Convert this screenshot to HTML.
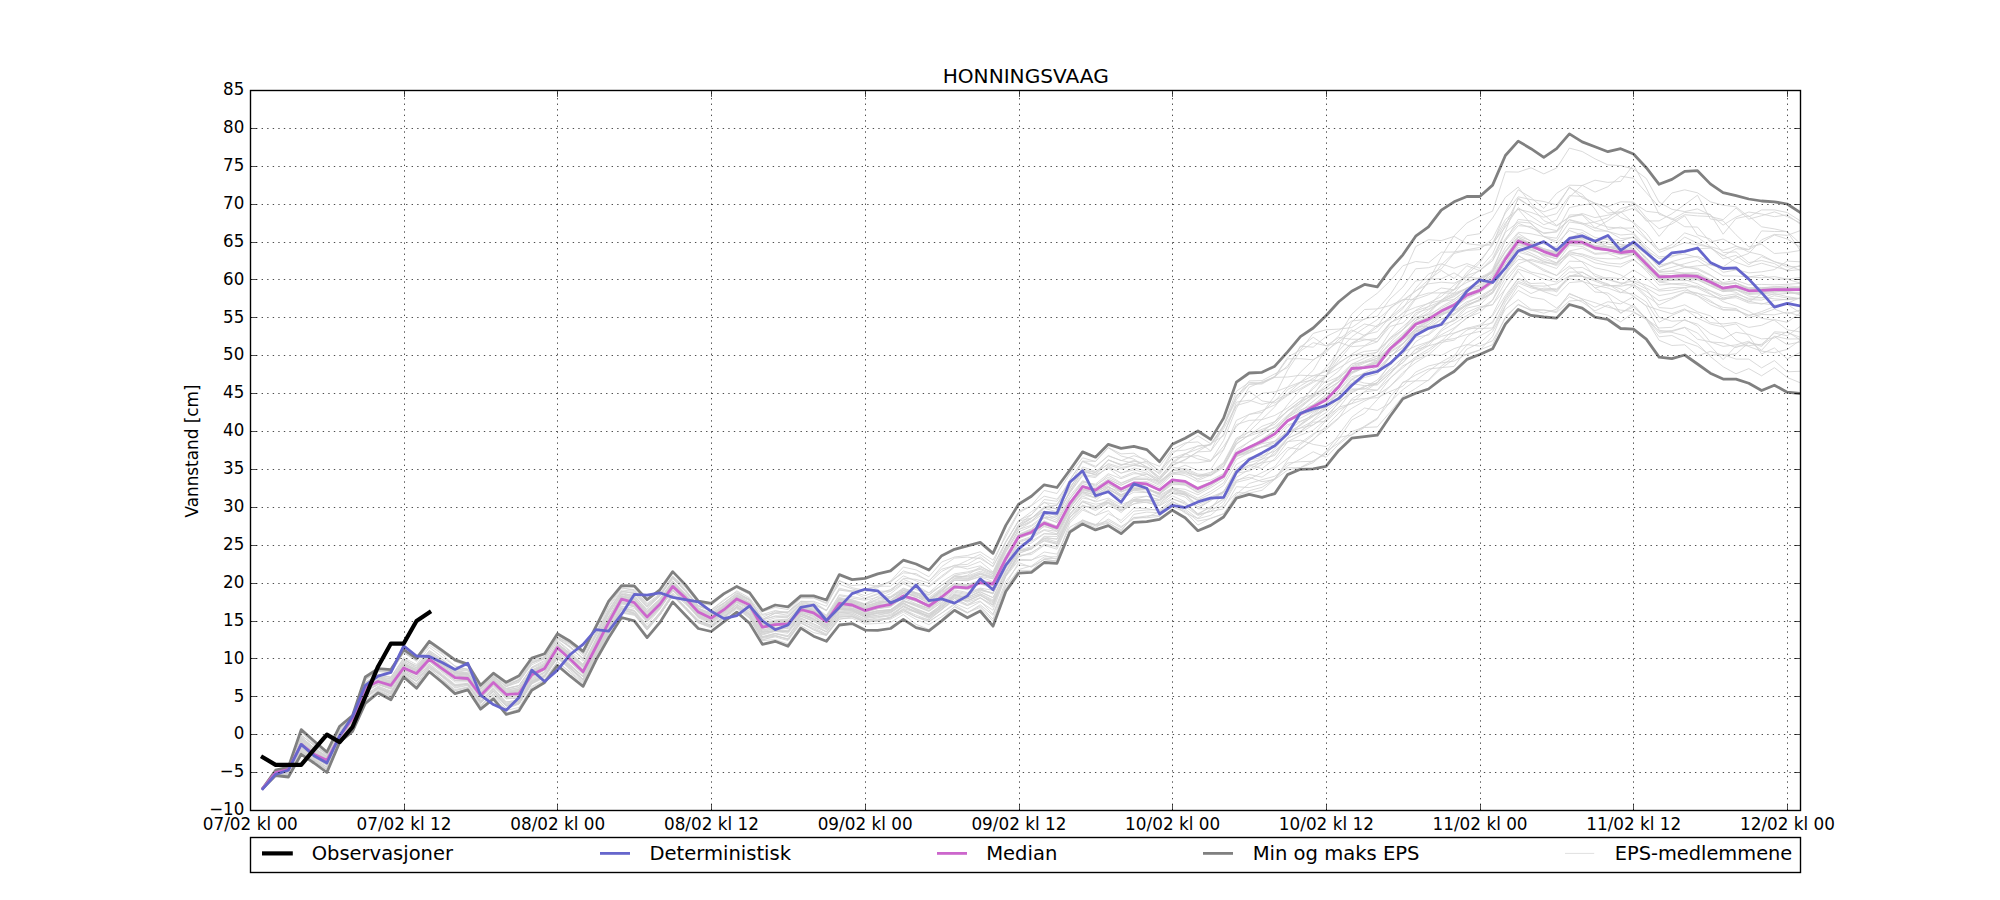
<!DOCTYPE html>
<html lang="no"><head><meta charset="utf-8"><title>HONNINGSVAAG</title>
<style>html,body{margin:0;padding:0;background:#fff}body{width:2000px;height:900px;overflow:hidden}svg{display:block}text{font-family:'DejaVu Sans','Liberation Sans',sans-serif;fill:#000}</style></head><body>
<svg width="2000" height="900" viewBox="0 0 2000 900">
<rect x="0" y="0" width="2000" height="900" fill="#fff"/>
<defs><clipPath id="ax"><rect x="250" y="90" width="1550" height="720"/></clipPath></defs>
<g clip-path="url(#ax)" fill="none" stroke-linejoin="round" stroke-linecap="square">
<g stroke="#d2d2d2" stroke-width="0.82">
<polyline points="262.8,788.4 275.6,771.9 288.4,768.9 301.2,741.6 314.0,751.6 326.9,759.3 339.7,734.5 352.5,718.0 365.3,685.8 378.1,679.4 390.9,681.8 403.7,663.7 416.5,670.2 429.3,653.8 442.1,663.0 455.0,672.3 467.8,673.9 480.6,692.9 493.4,680.1 506.2,692.3 519.0,690.7 531.8,672.4 544.6,667.3 557.4,646.6 570.2,657.8 583.1,669.2 595.9,645.0 608.7,620.6 621.5,598.2 634.3,601.9 647.1,616.6 659.9,604.0 672.7,586.4 685.5,598.1 698.3,612.1 711.2,618.1 724.0,609.7 736.8,598.7 749.6,604.9 762.4,627.1 775.2,624.6 788.0,623.9 800.8,609.5 813.6,612.8 826.4,621.5 839.3,603.1 852.1,604.5 864.9,609.9 877.7,605.7 890.5,603.2 903.3,594.9 916.1,598.2 928.9,605.4 941.7,596.4 954.5,586.5 967.4,587.8 980.2,582.7 993.0,584.0 1005.8,558.7 1018.6,536.6 1031.4,532.1 1044.2,523.0 1057.0,527.1 1069.8,502.8 1082.6,485.6 1095.5,488.7 1108.3,479.2 1121.1,485.2 1133.9,479.7 1146.7,479.4 1159.5,485.4 1172.3,473.0 1185.1,472.6 1197.9,475.7 1210.7,472.3 1223.6,462.4 1236.4,438.1 1249.2,431.9 1262.0,431.2 1274.8,421.9 1287.6,410.9 1300.4,403.4 1313.2,393.8 1326.0,380.9 1338.8,371.0 1351.7,356.0 1364.5,351.4 1377.3,350.1 1390.1,339.6 1402.9,329.4 1415.7,317.3 1428.5,314.8 1441.3,308.0 1454.1,301.3 1466.9,292.1 1479.8,284.5 1492.6,271.0 1505.4,247.5 1518.2,232.3 1531.0,233.8 1543.8,236.5 1556.6,238.2 1569.4,215.0 1582.2,214.6 1595.0,222.9 1607.9,227.1 1620.7,228.2 1633.5,228.0 1646.3,239.4 1659.1,249.7 1671.9,247.4 1684.7,237.1 1697.5,243.1 1710.3,247.4 1723.1,256.0 1736.0,248.7 1748.8,249.7 1761.6,230.9 1774.4,231.5 1787.2,231.6 1800.0,243.3"/>
<polyline points="262.8,788.4 275.6,770.9 288.4,768.1 301.2,735.2 314.0,745.2 326.9,754.8 339.7,729.2 352.5,716.4 365.3,680.0 378.1,671.5 390.9,672.9 403.7,652.9 416.5,659.3 429.3,642.3 442.1,651.9 455.0,661.2 467.8,665.1 480.6,686.5 493.4,673.7 506.2,684.2 519.0,679.6 531.8,661.7 544.6,657.9 557.4,637.9 570.2,647.8 583.1,659.4 595.9,635.4 608.7,610.9 621.5,592.5 634.3,595.9 647.1,608.9 659.9,595.8 672.7,576.9 685.5,587.3 698.3,602.2 711.2,604.2 724.0,594.7 736.8,587.2 749.6,593.9 762.4,614.4 775.2,610.5 788.0,613.5 800.8,601.4 813.6,601.3 826.4,606.3 839.3,580.8 852.1,585.6 864.9,584.5 877.7,586.0 890.5,581.3 903.3,572.9 916.1,573.6 928.9,581.3 941.7,566.6 954.5,558.1 967.4,557.1 980.2,558.6 993.0,566.2 1005.8,541.3 1018.6,521.1 1031.4,511.7 1044.2,502.6 1057.0,504.2 1069.8,488.6 1082.6,468.9 1095.5,472.3 1108.3,459.7 1121.1,465.6 1133.9,460.3 1146.7,466.6 1159.5,473.1 1172.3,453.8 1185.1,444.1 1197.9,435.8 1210.7,443.7 1223.6,435.8 1236.4,402.1 1249.2,400.2 1262.0,404.4 1274.8,401.3 1287.6,387.2 1300.4,372.2 1313.2,360.0 1326.0,350.5 1338.8,341.8 1351.7,331.9 1364.5,324.0 1377.3,326.7 1390.1,307.7 1402.9,300.1 1415.7,291.3 1428.5,279.8 1441.3,270.4 1454.1,278.5 1466.9,265.7 1479.8,270.7 1492.6,260.7 1505.4,238.6 1518.2,223.3 1531.0,228.0 1543.8,232.8 1556.6,231.8 1569.4,207.6 1582.2,204.9 1595.0,203.5 1607.9,206.6 1620.7,201.8 1633.5,202.1 1646.3,217.8 1659.1,228.7 1671.9,224.0 1684.7,215.9 1697.5,235.0 1710.3,239.0 1723.1,252.6 1736.0,251.9 1748.8,262.6 1761.6,260.5 1774.4,263.6 1787.2,270.9 1800.0,269.6"/>
<polyline points="262.8,788.4 275.6,771.6 288.4,768.4 301.2,736.9 314.0,748.2 326.9,756.5 339.7,731.9 352.5,717.6 365.3,684.4 378.1,678.1 390.9,682.3 403.7,664.8 416.5,670.7 429.3,656.2 442.1,664.8 455.0,672.4 467.8,674.3 480.6,692.2 493.4,679.3 506.2,690.5 519.0,687.6 531.8,669.9 544.6,663.6 557.4,643.7 570.2,653.4 583.1,664.6 595.9,639.2 608.7,614.4 621.5,594.5 634.3,597.6 647.1,611.6 659.9,600.1 672.7,581.9 685.5,595.0 698.3,609.0 711.2,612.5 724.0,602.9 736.8,593.2 749.6,599.0 762.4,619.4 775.2,613.1 788.0,615.3 800.8,602.5 813.6,604.6 826.4,610.3 839.3,588.1 852.1,591.4 864.9,595.7 877.7,591.1 890.5,591.3 903.3,583.4 916.1,588.4 928.9,593.0 941.7,585.3 954.5,575.3 967.4,573.0 980.2,569.3 993.0,575.3 1005.8,548.5 1018.6,525.9 1031.4,518.6 1044.2,506.6 1057.0,505.4 1069.8,485.1 1082.6,461.6 1095.5,467.4 1108.3,455.5 1121.1,460.7 1133.9,455.7 1146.7,459.7 1159.5,472.0 1172.3,451.3 1185.1,450.1 1197.9,446.1 1210.7,444.9 1223.6,425.0 1236.4,391.2 1249.2,382.4 1262.0,383.0 1274.8,377.4 1287.6,377.0 1300.4,375.2 1313.2,375.8 1326.0,375.5 1338.8,368.0 1351.7,360.2 1364.5,355.5 1377.3,356.0 1390.1,344.8 1402.9,333.4 1415.7,322.7 1428.5,317.3 1441.3,309.5 1454.1,303.3 1466.9,293.8 1479.8,288.5 1492.6,279.0 1505.4,258.2 1518.2,240.2 1531.0,244.5 1543.8,250.6 1556.6,254.4 1569.4,238.9 1582.2,237.2 1595.0,243.0 1607.9,246.6 1620.7,250.6 1633.5,250.5 1646.3,263.6 1659.1,276.1 1671.9,276.2 1684.7,274.6 1697.5,274.9 1710.3,279.9 1723.1,287.4 1736.0,285.2 1748.8,288.0 1761.6,288.2 1774.4,286.7 1787.2,287.7 1800.0,288.1"/>
<polyline points="262.8,788.4 275.6,772.6 288.4,769.5 301.2,744.3 314.0,753.7 326.9,760.2 339.7,735.7 352.5,718.5 365.3,687.2 378.1,680.9 390.9,683.7 403.7,665.7 416.5,670.1 429.3,653.2 442.1,661.0 455.0,668.8 467.8,669.1 480.6,689.3 493.4,677.4 506.2,688.6 519.0,685.4 531.8,668.1 544.6,663.1 557.4,643.0 570.2,653.5 583.1,666.0 595.9,642.7 608.7,618.1 621.5,597.2 634.3,600.9 647.1,615.7 659.9,603.6 672.7,586.1 685.5,598.0 698.3,612.1 711.2,618.2 724.0,610.0 736.8,599.2 749.6,605.3 762.4,627.8 775.2,625.0 788.0,623.9 800.8,609.5 813.6,613.3 826.4,622.3 839.3,604.2 852.1,606.8 864.9,613.7 877.7,610.9 890.5,609.9 903.3,602.7 916.1,610.2 928.9,616.9 941.7,608.1 954.5,597.2 967.4,600.9 980.2,594.7 993.0,604.2 1005.8,575.4 1018.6,553.7 1031.4,548.6 1044.2,536.3 1057.0,536.5 1069.8,508.6 1082.6,489.7 1095.5,491.3 1108.3,482.1 1121.1,489.6 1133.9,482.9 1146.7,483.8 1159.5,489.8 1172.3,479.7 1185.1,481.3 1197.9,488.2 1210.7,482.6 1223.6,475.7 1236.4,454.7 1249.2,448.7 1262.0,443.7 1274.8,441.2 1287.6,426.7 1300.4,418.2 1313.2,411.7 1326.0,403.1 1338.8,393.3 1351.7,378.7 1364.5,373.2 1377.3,370.9 1390.1,357.4 1402.9,343.6 1415.7,329.2 1428.5,322.0 1441.3,312.7 1454.1,305.4 1466.9,295.2 1479.8,290.3 1492.6,281.0 1505.4,259.6 1518.2,243.0 1531.0,247.2 1543.8,256.9 1556.6,262.9 1569.4,253.9 1582.2,256.6 1595.0,262.9 1607.9,265.3 1620.7,267.0 1633.5,259.7 1646.3,269.4 1659.1,282.0 1671.9,280.1 1684.7,278.4 1697.5,278.5 1710.3,283.2 1723.1,290.4 1736.0,287.8 1748.8,293.5 1761.6,292.6 1774.4,291.6 1787.2,292.2 1800.0,292.4"/>
<polyline points="262.8,788.4 275.6,774.7 288.4,774.8 301.2,750.7 314.0,759.6 326.9,767.3 339.7,739.5 352.5,725.8 365.3,696.7 378.1,688.5 390.9,694.2 403.7,673.8 416.5,684.0 429.3,668.3 442.1,679.5 455.0,690.8 467.8,687.8 480.6,706.4 493.4,694.7 506.2,708.3 519.0,703.7 531.8,682.9 544.6,676.2 557.4,655.7 570.2,665.7 583.1,677.0 595.9,650.7 608.7,626.6 621.5,604.0 634.3,606.9 647.1,621.9 659.9,608.3 672.7,589.9 685.5,602.6 698.3,617.9 711.2,623.5 724.0,615.0 736.8,604.9 749.6,614.7 762.4,636.6 775.2,633.4 788.0,635.6 800.8,619.1 813.6,625.2 826.4,632.3 839.3,615.3 852.1,615.4 864.9,622.4 877.7,620.7 890.5,617.2 903.3,606.2 916.1,612.0 928.9,615.3 941.7,607.0 954.5,596.7 967.4,602.2 980.2,597.7 993.0,607.2 1005.8,576.5 1018.6,560.5 1031.4,560.3 1044.2,552.0 1057.0,554.1 1069.8,527.2 1082.6,520.2 1095.5,526.0 1108.3,523.3 1121.1,529.6 1133.9,517.7 1146.7,516.0 1159.5,515.2 1172.3,507.1 1185.1,511.7 1197.9,525.1 1210.7,518.2 1223.6,513.9 1236.4,494.2 1249.2,483.5 1262.0,479.7 1274.8,476.2 1287.6,467.7 1300.4,467.8 1313.2,462.6 1326.0,451.8 1338.8,442.9 1351.7,431.6 1364.5,426.9 1377.3,419.1 1390.1,396.7 1402.9,382.7 1415.7,375.0 1428.5,369.0 1441.3,367.6 1454.1,366.4 1466.9,349.1 1479.8,342.9 1492.6,331.4 1505.4,309.2 1518.2,299.6 1531.0,309.2 1543.8,310.0 1556.6,311.4 1569.4,293.3 1582.2,299.2 1595.0,312.5 1607.9,315.1 1620.7,321.9 1633.5,312.6 1646.3,318.6 1659.1,333.1 1671.9,331.5 1684.7,327.5 1697.5,339.2 1710.3,341.8 1723.1,346.4 1736.0,344.9 1748.8,341.2 1761.6,350.3 1774.4,336.1 1787.2,339.0 1800.0,338.9"/>
<polyline points="262.8,788.4 275.6,771.2 288.4,768.2 301.2,737.3 314.0,747.5 326.9,755.9 339.7,730.9 352.5,717.0 365.3,682.4 378.1,674.4 390.9,677.6 403.7,658.8 416.5,667.6 429.3,650.4 442.1,659.2 455.0,668.8 467.8,670.4 480.6,688.8 493.4,676.9 506.2,686.4 519.0,681.7 531.8,664.8 544.6,658.8 557.4,639.1 570.2,646.8 583.1,658.5 595.9,633.5 608.7,609.9 621.5,591.2 634.3,593.7 647.1,607.2 659.9,596.0 672.7,577.1 685.5,591.2 698.3,606.6 711.2,610.1 724.0,602.9 736.8,592.8 749.6,599.9 762.4,619.3 775.2,613.3 788.0,612.4 800.8,598.1 813.6,597.9 826.4,602.8 839.3,584.2 852.1,588.9 864.9,592.4 877.7,587.6 890.5,581.2 903.3,567.1 916.1,569.9 928.9,576.8 941.7,562.0 954.5,557.0 967.4,555.5 980.2,551.8 993.0,560.1 1005.8,536.6 1018.6,512.9 1031.4,505.8 1044.2,496.2 1057.0,499.2 1069.8,482.8 1082.6,470.0 1095.5,475.2 1108.3,468.1 1121.1,477.5 1133.9,472.0 1146.7,476.6 1159.5,482.8 1172.3,470.4 1185.1,465.2 1197.9,470.3 1210.7,469.4 1223.6,449.9 1236.4,420.3 1249.2,414.4 1262.0,412.5 1274.8,400.6 1287.6,393.9 1300.4,382.2 1313.2,370.3 1326.0,348.5 1338.8,335.7 1351.7,314.2 1364.5,302.6 1377.3,293.2 1390.1,280.9 1402.9,265.8 1415.7,261.5 1428.5,262.8 1441.3,252.2 1454.1,252.0 1466.9,249.8 1479.8,247.4 1492.6,242.8 1505.4,219.5 1518.2,209.2 1531.0,212.4 1543.8,217.2 1556.6,213.7 1569.4,195.7 1582.2,196.4 1595.0,203.6 1607.9,213.1 1620.7,211.7 1633.5,223.2 1646.3,238.2 1659.1,252.5 1671.9,247.7 1684.7,242.6 1697.5,244.9 1710.3,247.2 1723.1,258.8 1736.0,255.4 1748.8,264.7 1761.6,256.6 1774.4,261.6 1787.2,266.9 1800.0,266.3"/>
<polyline points="262.8,788.4 275.6,772.6 288.4,769.7 301.2,744.3 314.0,754.0 326.9,759.8 339.7,735.5 352.5,718.5 365.3,687.0 378.1,681.3 390.9,685.1 403.7,667.8 416.5,673.8 429.3,659.8 442.1,668.6 455.0,678.6 467.8,679.8 480.6,697.1 493.4,684.7 506.2,696.7 519.0,695.8 531.8,676.0 544.6,669.8 557.4,647.9 570.2,659.2 583.1,671.2 595.9,646.4 608.7,621.6 621.5,598.7 634.3,602.1 647.1,616.6 659.9,603.7 672.7,585.7 685.5,597.8 698.3,611.9 711.2,618.1 724.0,609.7 736.8,598.9 749.6,605.0 762.4,627.2 775.2,624.7 788.0,623.8 800.8,609.4 813.6,612.8 826.4,621.4 839.3,603.3 852.1,605.0 864.9,610.7 877.7,606.8 890.5,604.3 903.3,595.2 916.1,599.5 928.9,604.7 941.7,595.9 954.5,585.9 967.4,587.0 980.2,582.5 993.0,584.0 1005.8,558.7 1018.6,536.8 1031.4,532.4 1044.2,523.1 1057.0,527.7 1069.8,503.4 1082.6,486.7 1095.5,491.0 1108.3,483.0 1121.1,490.8 1133.9,483.8 1146.7,484.3 1159.5,490.2 1172.3,480.3 1185.1,481.5 1197.9,488.4 1210.7,483.5 1223.6,477.6 1236.4,456.3 1249.2,450.7 1262.0,441.3 1274.8,433.4 1287.6,421.6 1300.4,414.4 1313.2,406.2 1326.0,397.8 1338.8,386.2 1351.7,372.5 1364.5,367.5 1377.3,362.7 1390.1,348.7 1402.9,338.2 1415.7,325.1 1428.5,320.7 1441.3,314.6 1454.1,310.9 1466.9,305.0 1479.8,299.5 1492.6,291.8 1505.4,273.2 1518.2,259.4 1531.0,260.5 1543.8,264.1 1556.6,268.5 1569.4,252.8 1582.2,253.9 1595.0,258.0 1607.9,258.8 1620.7,258.8 1633.5,254.8 1646.3,267.5 1659.1,278.2 1671.9,277.3 1684.7,277.6 1697.5,277.9 1710.3,283.9 1723.1,290.1 1736.0,289.3 1748.8,294.5 1761.6,293.8 1774.4,292.4 1787.2,289.9 1800.0,289.7"/>
<polyline points="262.8,788.4 275.6,771.5 288.4,768.6 301.2,739.0 314.0,748.6 326.9,756.9 339.7,731.9 352.5,717.3 365.3,682.9 378.1,676.4 390.9,679.0 403.7,661.6 416.5,668.1 429.3,653.3 442.1,663.4 455.0,673.8 467.8,675.7 480.6,693.6 493.4,680.8 506.2,693.0 519.0,691.4 531.8,673.2 544.6,666.5 557.4,645.4 570.2,655.5 583.1,667.0 595.9,642.0 608.7,617.2 621.5,596.8 634.3,599.1 647.1,614.2 659.9,602.4 672.7,584.5 685.5,596.3 698.3,610.1 711.2,615.8 724.0,607.4 736.8,596.9 749.6,602.8 762.4,624.1 775.2,620.7 788.0,620.5 800.8,607.0 813.6,608.1 826.4,617.1 839.3,595.6 852.1,598.1 864.9,600.3 877.7,597.2 890.5,596.5 903.3,588.0 916.1,592.6 928.9,597.5 941.7,588.2 954.5,578.3 967.4,578.9 980.2,574.3 993.0,578.8 1005.8,551.5 1018.6,529.5 1031.4,525.3 1044.2,515.5 1057.0,520.5 1069.8,498.4 1082.6,483.6 1095.5,487.5 1108.3,479.2 1121.1,485.4 1133.9,478.8 1146.7,479.4 1159.5,480.2 1172.3,465.0 1185.1,459.4 1197.9,451.9 1210.7,451.2 1223.6,434.1 1236.4,405.4 1249.2,391.1 1262.0,400.9 1274.8,403.0 1287.6,394.9 1300.4,385.9 1313.2,378.3 1326.0,370.3 1338.8,355.8 1351.7,343.3 1364.5,340.0 1377.3,338.5 1390.1,322.6 1402.9,317.1 1415.7,310.8 1428.5,306.7 1441.3,301.2 1454.1,296.7 1466.9,287.8 1479.8,281.6 1492.6,271.0 1505.4,240.5 1518.2,219.4 1531.0,221.0 1543.8,227.9 1556.6,230.6 1569.4,219.6 1582.2,222.8 1595.0,228.2 1607.9,220.7 1620.7,212.4 1633.5,202.7 1646.3,211.3 1659.1,212.8 1671.9,219.7 1684.7,212.4 1697.5,213.2 1710.3,214.3 1723.1,234.2 1736.0,218.5 1748.8,215.8 1761.6,226.8 1774.4,228.9 1787.2,231.7 1800.0,250.2"/>
<polyline points="262.8,788.4 275.6,774.5 288.4,774.8 301.2,752.2 314.0,761.2 326.9,769.7 339.7,741.3 352.5,729.3 365.3,700.9 378.1,692.0 390.9,698.7 403.7,676.4 416.5,687.2 429.3,670.1 442.1,681.3 455.0,692.7 467.8,688.7 480.6,706.4 493.4,694.0 506.2,708.9 519.0,704.1 531.8,683.9 544.6,677.7 557.4,657.7 570.2,670.3 583.1,681.7 595.9,656.6 608.7,632.6 621.5,612.0 634.3,614.0 647.1,628.8 659.9,613.2 672.7,594.6 685.5,607.4 698.3,621.0 711.2,625.9 724.0,616.0 736.8,604.6 749.6,613.1 762.4,634.1 775.2,631.0 788.0,631.3 800.8,614.5 813.6,619.1 826.4,625.7 839.3,608.8 852.1,610.8 864.9,617.5 877.7,616.8 890.5,615.6 903.3,606.9 916.1,612.7 928.9,618.5 941.7,609.3 954.5,598.2 967.4,605.5 980.2,600.9 993.0,614.1 1005.8,581.3 1018.6,564.9 1031.4,566.5 1044.2,559.6 1057.0,560.9 1069.8,530.7 1082.6,519.8 1095.5,525.2 1108.3,513.6 1121.1,520.4 1133.9,508.0 1146.7,508.5 1159.5,510.9 1172.3,501.2 1185.1,508.9 1197.9,518.8 1210.7,515.3 1223.6,504.2 1236.4,482.3 1249.2,479.2 1262.0,472.6 1274.8,466.7 1287.6,450.3 1300.4,442.8 1313.2,433.8 1326.0,428.1 1338.8,417.6 1351.7,408.4 1364.5,401.0 1377.3,395.1 1390.1,378.4 1402.9,365.8 1415.7,359.4 1428.5,354.8 1441.3,343.6 1454.1,333.4 1466.9,328.4 1479.8,324.9 1492.6,316.0 1505.4,295.5 1518.2,278.3 1531.0,283.5 1543.8,283.0 1556.6,292.2 1569.4,276.4 1582.2,272.3 1595.0,278.9 1607.9,285.4 1620.7,286.3 1633.5,283.8 1646.3,295.6 1659.1,305.0 1671.9,299.0 1684.7,292.6 1697.5,293.2 1710.3,300.5 1723.1,309.5 1736.0,310.1 1748.8,315.1 1761.6,313.6 1774.4,309.1 1787.2,313.9 1800.0,310.1"/>
<polyline points="262.8,788.4 275.6,772.8 288.4,770.9 301.2,746.3 314.0,756.1 326.9,762.2 339.7,736.5 352.5,719.3 365.3,688.1 378.1,681.7 390.9,685.7 403.7,667.8 416.5,673.3 429.3,658.8 442.1,667.6 455.0,677.3 467.8,678.2 480.6,695.3 493.4,682.4 506.2,694.5 519.0,693.6 531.8,674.4 544.6,668.4 557.4,647.2 570.2,658.9 583.1,671.3 595.9,646.4 608.7,622.2 621.5,599.0 634.3,602.5 647.1,616.9 659.9,604.2 672.7,586.4 685.5,598.1 698.3,612.1 711.2,618.2 724.0,610.0 736.8,598.9 749.6,605.1 762.4,627.5 775.2,625.3 788.0,625.4 800.8,611.9 813.6,616.4 826.4,625.7 839.3,607.8 852.1,608.4 864.9,613.4 877.7,610.5 890.5,609.7 903.3,600.0 916.1,606.0 928.9,610.9 941.7,602.0 954.5,591.2 967.4,593.6 980.2,588.7 993.0,594.1 1005.8,568.4 1018.6,551.2 1031.4,548.5 1044.2,541.1 1057.0,544.3 1069.8,514.1 1082.6,497.9 1095.5,500.8 1108.3,489.3 1121.1,496.9 1133.9,490.1 1146.7,489.8 1159.5,493.9 1172.3,484.7 1185.1,484.7 1197.9,492.3 1210.7,485.2 1223.6,477.8 1236.4,455.6 1249.2,452.0 1262.0,446.9 1274.8,441.4 1287.6,431.6 1300.4,431.3 1313.2,422.2 1326.0,421.5 1338.8,409.5 1351.7,403.2 1364.5,391.9 1377.3,390.1 1390.1,374.3 1402.9,358.8 1415.7,341.7 1428.5,333.8 1441.3,322.0 1454.1,315.0 1466.9,304.9 1479.8,299.5 1492.6,288.6 1505.4,266.3 1518.2,244.5 1531.0,247.4 1543.8,251.6 1556.6,256.0 1569.4,241.9 1582.2,242.1 1595.0,247.6 1607.9,249.7 1620.7,252.5 1633.5,251.1 1646.3,264.7 1659.1,278.8 1671.9,280.4 1684.7,279.6 1697.5,283.8 1710.3,290.7 1723.1,295.8 1736.0,293.9 1748.8,298.3 1761.6,297.6 1774.4,298.8 1787.2,299.8 1800.0,298.4"/>
<polyline points="262.8,788.4 275.6,773.5 288.4,772.5 301.2,748.1 314.0,757.4 326.9,764.3 339.7,737.7 352.5,722.2 365.3,690.8 378.1,683.9 390.9,687.4 403.7,669.4 416.5,674.8 429.3,659.4 442.1,668.5 455.0,677.5 467.8,678.0 480.6,695.4 493.4,682.4 506.2,694.4 519.0,693.3 531.8,674.2 544.6,668.2 557.4,647.3 570.2,658.5 583.1,671.4 595.9,646.8 608.7,622.0 621.5,598.5 634.3,601.9 647.1,616.4 659.9,603.2 672.7,585.3 685.5,597.6 698.3,611.4 711.2,617.6 724.0,609.4 736.8,598.9 749.6,605.0 762.4,627.2 775.2,624.7 788.0,624.5 800.8,610.9 813.6,615.6 826.4,625.2 839.3,608.1 852.1,610.2 864.9,616.3 877.7,613.4 890.5,612.8 903.3,604.7 916.1,609.7 928.9,614.4 941.7,604.7 954.5,594.3 967.4,598.7 980.2,593.9 993.0,601.0 1005.8,575.8 1018.6,555.2 1031.4,554.6 1044.2,545.4 1057.0,549.2 1069.8,520.6 1082.6,508.3 1095.5,515.5 1108.3,510.7 1121.1,522.8 1133.9,511.1 1146.7,510.0 1159.5,509.5 1172.3,499.0 1185.1,502.8 1197.9,513.7 1210.7,507.0 1223.6,499.3 1236.4,477.3 1249.2,469.4 1262.0,461.9 1274.8,453.8 1287.6,438.2 1300.4,432.8 1313.2,424.9 1326.0,416.8 1338.8,407.7 1351.7,391.5 1364.5,387.1 1377.3,380.0 1390.1,365.2 1402.9,352.2 1415.7,346.1 1428.5,341.7 1441.3,334.8 1454.1,327.9 1466.9,318.2 1479.8,309.1 1492.6,300.0 1505.4,273.3 1518.2,252.2 1531.0,255.7 1543.8,261.9 1556.6,264.6 1569.4,251.4 1582.2,255.0 1595.0,259.7 1607.9,263.1 1620.7,264.0 1633.5,259.0 1646.3,271.0 1659.1,285.1 1671.9,284.1 1684.7,285.2 1697.5,288.1 1710.3,294.4 1723.1,299.8 1736.0,296.1 1748.8,301.0 1761.6,304.2 1774.4,300.5 1787.2,299.3 1800.0,298.2"/>
<polyline points="262.8,788.4 275.6,770.6 288.4,767.5 301.2,732.7 314.0,744.0 326.9,754.0 339.7,729.0 352.5,716.2 365.3,677.9 378.1,669.4 390.9,671.1 403.7,651.8 416.5,660.2 429.3,643.2 442.1,651.6 455.0,660.9 467.8,665.1 480.6,686.4 493.4,675.0 506.2,684.9 519.0,680.6 531.8,662.8 544.6,658.6 557.4,636.5 570.2,646.3 583.1,659.3 595.9,633.5 608.7,609.5 621.5,591.4 634.3,592.5 647.1,605.7 659.9,595.3 672.7,577.8 685.5,589.9 698.3,605.6 711.2,609.7 724.0,600.7 736.8,590.8 749.6,597.9 762.4,615.3 775.2,612.8 788.0,612.2 800.8,601.7 813.6,603.7 826.4,610.8 839.3,590.0 852.1,592.0 864.9,598.0 877.7,593.6 890.5,589.5 903.3,581.8 916.1,585.5 928.9,592.8 941.7,581.8 954.5,573.8 967.4,571.9 980.2,568.4 993.0,573.8 1005.8,547.0 1018.6,527.3 1031.4,521.8 1044.2,513.3 1057.0,518.7 1069.8,495.7 1082.6,480.7 1095.5,485.2 1108.3,477.3 1121.1,483.6 1133.9,478.0 1146.7,478.2 1159.5,484.1 1172.3,471.0 1185.1,468.3 1197.9,474.1 1210.7,474.8 1223.6,463.2 1236.4,441.6 1249.2,431.6 1262.0,419.2 1274.8,406.9 1287.6,389.6 1300.4,382.6 1313.2,380.0 1326.0,382.4 1338.8,376.8 1351.7,368.4 1364.5,363.2 1377.3,358.2 1390.1,342.4 1402.9,329.8 1415.7,312.8 1428.5,309.0 1441.3,301.7 1454.1,299.3 1466.9,289.8 1479.8,287.9 1492.6,277.1 1505.4,256.1 1518.2,239.3 1531.0,243.4 1543.8,248.8 1556.6,252.3 1569.4,238.1 1582.2,232.5 1595.0,240.4 1607.9,242.1 1620.7,244.3 1633.5,245.7 1646.3,258.3 1659.1,270.7 1671.9,267.3 1684.7,263.7 1697.5,260.4 1710.3,268.3 1723.1,276.0 1736.0,276.0 1748.8,276.9 1761.6,277.8 1774.4,276.6 1787.2,279.1 1800.0,277.6"/>
<polyline points="262.8,788.4 275.6,774.7 288.4,774.9 301.2,751.5 314.0,761.1 326.9,770.0 339.7,741.2 352.5,729.9 365.3,701.0 378.1,691.1 390.9,696.0 403.7,674.9 416.5,684.1 429.3,668.0 442.1,678.9 455.0,689.6 467.8,686.9 480.6,705.2 493.4,693.3 506.2,706.0 519.0,703.0 531.8,683.3 544.6,676.4 557.4,657.6 570.2,669.1 583.1,680.1 595.9,654.1 608.7,630.4 621.5,608.6 634.3,612.7 647.1,627.5 659.9,614.7 672.7,595.3 685.5,607.8 698.3,621.9 711.2,626.3 724.0,617.2 736.8,607.1 749.6,617.7 762.4,640.7 775.2,639.5 788.0,643.8 800.8,625.6 813.6,632.6 826.4,635.4 839.3,616.9 852.1,616.5 864.9,621.6 877.7,620.0 890.5,619.2 903.3,612.2 916.1,619.4 928.9,624.6 941.7,616.8 954.5,607.0 967.4,612.5 980.2,607.5 993.0,621.2 1005.8,588.1 1018.6,569.5 1031.4,566.0 1044.2,556.9 1057.0,556.7 1069.8,522.9 1082.6,510.0 1095.5,515.4 1108.3,505.9 1121.1,510.9 1133.9,503.8 1146.7,499.6 1159.5,500.5 1172.3,492.7 1185.1,495.0 1197.9,504.6 1210.7,499.6 1223.6,491.3 1236.4,472.9 1249.2,465.1 1262.0,462.9 1274.8,460.4 1287.6,447.5 1300.4,449.4 1313.2,439.1 1326.0,429.6 1338.8,418.4 1351.7,398.8 1364.5,391.8 1377.3,382.6 1390.1,368.8 1402.9,357.7 1415.7,353.3 1428.5,345.8 1441.3,342.4 1454.1,340.2 1466.9,330.1 1479.8,325.8 1492.6,322.9 1505.4,297.8 1518.2,278.4 1531.0,286.4 1543.8,289.4 1556.6,289.5 1569.4,278.8 1582.2,280.7 1595.0,292.0 1607.9,293.0 1620.7,301.3 1633.5,306.4 1646.3,318.0 1659.1,331.4 1671.9,330.6 1684.7,327.3 1697.5,333.0 1710.3,345.9 1723.1,359.6 1736.0,346.1 1748.8,345.6 1761.6,344.2 1774.4,333.0 1787.2,335.8 1800.0,326.6"/>
<polyline points="262.8,788.4 275.6,771.9 288.4,769.0 301.2,741.0 314.0,751.8 326.9,758.9 339.7,734.3 352.5,717.8 365.3,684.4 378.1,677.0 390.9,678.7 403.7,660.4 416.5,665.8 429.3,650.8 442.1,659.2 455.0,670.4 467.8,672.7 480.6,691.1 493.4,678.5 506.2,689.8 519.0,687.7 531.8,670.2 544.6,664.6 557.4,644.1 570.2,654.5 583.1,664.4 595.9,639.8 608.7,613.0 621.5,594.4 634.3,595.9 647.1,610.3 659.9,598.7 672.7,580.6 685.5,594.2 698.3,608.3 711.2,615.1 724.0,607.0 736.8,597.5 749.6,603.9 762.4,625.7 775.2,623.2 788.0,622.5 800.8,608.1 813.6,610.5 826.4,619.8 839.3,600.9 852.1,602.8 864.9,608.5 877.7,603.9 890.5,601.7 903.3,592.6 916.1,596.2 928.9,602.9 941.7,593.6 954.5,583.4 967.4,584.5 980.2,580.4 993.0,582.6 1005.8,556.8 1018.6,534.2 1031.4,528.9 1044.2,518.1 1057.0,522.6 1069.8,498.5 1082.6,481.1 1095.5,486.2 1108.3,475.1 1121.1,482.9 1133.9,477.7 1146.7,474.1 1159.5,479.2 1172.3,462.0 1185.1,453.8 1197.9,449.1 1210.7,443.8 1223.6,426.2 1236.4,399.6 1249.2,384.0 1262.0,382.9 1274.8,376.3 1287.6,357.4 1300.4,349.9 1313.2,333.4 1326.0,329.8 1338.8,329.1 1351.7,327.6 1364.5,318.8 1377.3,316.3 1390.1,298.9 1402.9,287.1 1415.7,268.8 1428.5,267.7 1441.3,263.8 1454.1,268.2 1466.9,263.6 1479.8,268.2 1492.6,253.8 1505.4,224.8 1518.2,198.9 1531.0,206.7 1543.8,220.6 1556.6,226.1 1569.4,217.1 1582.2,214.9 1595.0,227.8 1607.9,231.5 1620.7,235.0 1633.5,234.0 1646.3,250.2 1659.1,258.6 1671.9,256.9 1684.7,251.7 1697.5,248.8 1710.3,248.1 1723.1,255.1 1736.0,262.3 1748.8,266.8 1761.6,263.2 1774.4,266.9 1787.2,269.9 1800.0,265.6"/>
<polyline points="262.8,788.4 275.6,772.5 288.4,769.3 301.2,743.4 314.0,753.4 326.9,759.9 339.7,735.3 352.5,718.3 365.3,686.4 378.1,679.6 390.9,682.6 403.7,664.2 416.5,670.2 429.3,655.2 442.1,663.3 455.0,671.4 467.8,673.2 480.6,691.7 493.4,679.0 506.2,689.2 519.0,685.9 531.8,667.1 544.6,660.4 557.4,641.3 570.2,651.8 583.1,664.7 595.9,641.3 608.7,616.9 621.5,595.9 634.3,599.3 647.1,612.5 659.9,600.8 672.7,583.0 685.5,594.0 698.3,608.1 711.2,613.8 724.0,604.2 736.8,595.2 749.6,602.7 762.4,624.7 775.2,623.1 788.0,622.3 800.8,609.1 813.6,612.2 826.4,621.0 839.3,602.3 852.1,603.9 864.9,609.2 877.7,604.7 890.5,603.7 903.3,595.4 916.1,599.3 928.9,605.5 941.7,596.5 954.5,585.7 967.4,586.0 980.2,580.5 993.0,582.1 1005.8,557.4 1018.6,534.7 1031.4,530.3 1044.2,520.8 1057.0,526.3 1069.8,502.9 1082.6,486.5 1095.5,490.1 1108.3,481.4 1121.1,489.0 1133.9,482.8 1146.7,483.7 1159.5,489.9 1172.3,479.8 1185.1,481.5 1197.9,488.3 1210.7,482.6 1223.6,475.6 1236.4,454.0 1249.2,447.2 1262.0,439.2 1274.8,430.4 1287.6,415.9 1300.4,402.8 1313.2,386.9 1326.0,375.6 1338.8,356.3 1351.7,342.9 1364.5,336.4 1377.3,327.2 1390.1,317.3 1402.9,306.9 1415.7,296.8 1428.5,293.0 1441.3,292.9 1454.1,293.2 1466.9,288.3 1479.8,282.9 1492.6,274.7 1505.4,255.9 1518.2,237.4 1531.0,243.1 1543.8,248.7 1556.6,252.0 1569.4,236.9 1582.2,238.5 1595.0,240.6 1607.9,246.7 1620.7,246.4 1633.5,245.9 1646.3,257.5 1659.1,272.5 1671.9,271.3 1684.7,273.3 1697.5,274.7 1710.3,280.1 1723.1,287.5 1736.0,285.3 1748.8,290.8 1761.6,290.4 1774.4,289.7 1787.2,289.7 1800.0,289.7"/>
<polyline points="262.8,788.4 275.6,774.3 288.4,774.0 301.2,750.9 314.0,760.5 326.9,769.5 339.7,741.2 352.5,729.0 365.3,700.8 378.1,690.3 390.9,696.8 403.7,674.5 416.5,684.6 429.3,667.0 442.1,675.7 455.0,685.8 467.8,683.9 480.6,702.5 493.4,691.1 506.2,705.5 519.0,703.6 531.8,683.4 544.6,675.7 557.4,656.5 570.2,665.7 583.1,676.3 595.9,650.4 608.7,625.3 621.5,601.9 634.3,606.3 647.1,621.1 659.9,608.0 672.7,590.3 685.5,603.0 698.3,615.6 711.2,621.3 724.0,612.4 736.8,601.9 749.6,609.6 762.4,632.2 775.2,630.4 788.0,631.9 800.8,616.2 813.6,621.6 826.4,627.7 839.3,609.7 852.1,609.9 864.9,617.1 877.7,615.3 890.5,612.9 903.3,603.6 916.1,608.6 928.9,613.8 941.7,604.7 954.5,595.3 967.4,597.8 980.2,590.5 993.0,593.4 1005.8,565.2 1018.6,542.6 1031.4,538.2 1044.2,530.3 1057.0,533.9 1069.8,507.7 1082.6,492.9 1095.5,498.3 1108.3,489.6 1121.1,495.2 1133.9,488.9 1146.7,488.5 1159.5,493.2 1172.3,482.1 1185.1,483.7 1197.9,488.7 1210.7,482.6 1223.6,475.7 1236.4,454.1 1249.2,447.2 1262.0,440.6 1274.8,433.0 1287.6,420.9 1300.4,413.7 1313.2,405.3 1326.0,394.7 1338.8,381.9 1351.7,367.3 1364.5,362.0 1377.3,358.3 1390.1,347.4 1402.9,338.1 1415.7,326.5 1428.5,326.7 1441.3,325.6 1454.1,320.7 1466.9,312.3 1479.8,306.7 1492.6,304.8 1505.4,282.1 1518.2,265.7 1531.0,272.1 1543.8,274.7 1556.6,280.0 1569.4,268.2 1582.2,267.4 1595.0,274.2 1607.9,279.1 1620.7,282.8 1633.5,285.9 1646.3,297.2 1659.1,317.3 1671.9,321.2 1684.7,320.4 1697.5,324.1 1710.3,333.6 1723.1,339.0 1736.0,332.3 1748.8,334.4 1761.6,338.9 1774.4,338.0 1787.2,331.7 1800.0,339.7"/>
<polyline points="262.8,788.4 275.6,771.1 288.4,768.1 301.2,736.8 314.0,747.7 326.9,756.7 339.7,732.4 352.5,717.5 365.3,684.2 378.1,677.0 390.9,681.3 403.7,661.2 416.5,668.1 429.3,651.9 442.1,660.6 455.0,669.7 467.8,671.0 480.6,690.1 493.4,677.3 506.2,688.4 519.0,685.5 531.8,667.6 544.6,661.6 557.4,640.4 570.2,650.8 583.1,661.3 595.9,635.0 608.7,611.0 621.5,591.6 634.3,593.1 647.1,606.9 659.9,596.4 672.7,578.5 685.5,590.8 698.3,605.9 711.2,609.9 724.0,599.6 736.8,591.7 749.6,600.1 762.4,619.9 775.2,616.3 788.0,617.1 800.8,604.1 813.6,607.0 826.4,615.9 839.3,598.1 852.1,601.2 864.9,607.2 877.7,602.9 890.5,600.6 903.3,592.1 916.1,596.8 928.9,600.2 941.7,590.0 954.5,578.4 967.4,575.3 980.2,566.9 993.0,572.4 1005.8,546.6 1018.6,524.3 1031.4,518.3 1044.2,508.4 1057.0,511.7 1069.8,493.1 1082.6,475.7 1095.5,477.6 1108.3,465.9 1121.1,473.2 1133.9,467.9 1146.7,471.0 1159.5,481.1 1172.3,473.0 1185.1,475.6 1197.9,481.9 1210.7,480.1 1223.6,473.4 1236.4,452.5 1249.2,446.6 1262.0,440.4 1274.8,432.5 1287.6,421.2 1300.4,413.9 1313.2,406.2 1326.0,397.5 1338.8,386.2 1351.7,372.0 1364.5,366.2 1377.3,360.2 1390.1,347.3 1402.9,335.1 1415.7,320.2 1428.5,314.2 1441.3,300.4 1454.1,289.4 1466.9,272.3 1479.8,260.7 1492.6,245.3 1505.4,211.6 1518.2,189.8 1531.0,197.6 1543.8,208.4 1556.6,193.3 1569.4,185.2 1582.2,185.5 1595.0,180.2 1607.9,182.4 1620.7,181.4 1633.5,164.8 1646.3,188.0 1659.1,214.3 1671.9,218.4 1684.7,226.7 1697.5,227.1 1710.3,242.0 1723.1,239.0 1736.0,245.9 1748.8,252.0 1761.6,255.0 1774.4,261.7 1787.2,264.8 1800.0,270.3"/>
<polyline points="262.8,788.4 275.6,771.5 288.4,768.4 301.2,737.9 314.0,749.0 326.9,756.9 339.7,731.9 352.5,717.4 365.3,683.3 378.1,675.7 390.9,677.4 403.7,657.6 416.5,664.5 429.3,647.3 442.1,657.1 455.0,666.0 467.8,669.4 480.6,688.8 493.4,676.3 506.2,686.4 519.0,679.3 531.8,660.1 544.6,654.6 557.4,635.1 570.2,643.6 583.1,653.8 595.9,628.2 608.7,606.3 621.5,587.7 634.3,590.5 647.1,604.4 659.9,595.1 672.7,578.6 685.5,591.8 698.3,607.8 711.2,613.7 724.0,605.3 736.8,596.0 749.6,602.8 762.4,623.6 775.2,621.2 788.0,619.5 800.8,606.2 813.6,609.1 826.4,618.1 839.3,599.4 852.1,600.6 864.9,604.4 877.7,600.8 890.5,597.9 903.3,589.3 916.1,593.5 928.9,599.7 941.7,591.0 954.5,580.3 967.4,579.7 980.2,574.5 993.0,576.9 1005.8,548.9 1018.6,524.6 1031.4,514.7 1044.2,499.5 1057.0,501.3 1069.8,480.0 1082.6,461.0 1095.5,466.2 1108.3,456.0 1121.1,460.4 1133.9,463.3 1146.7,468.5 1159.5,479.3 1172.3,465.5 1185.1,460.0 1197.9,451.4 1210.7,443.8 1223.6,426.0 1236.4,397.1 1249.2,380.9 1262.0,380.6 1274.8,373.9 1287.6,367.6 1300.4,346.1 1313.2,347.2 1326.0,336.6 1338.8,330.5 1351.7,321.0 1364.5,319.5 1377.3,309.2 1390.1,294.9 1402.9,275.0 1415.7,246.6 1428.5,239.7 1441.3,240.6 1454.1,236.4 1466.9,243.7 1479.8,245.1 1492.6,245.0 1505.4,222.8 1518.2,209.1 1531.0,224.1 1543.8,233.7 1556.6,231.8 1569.4,219.9 1582.2,224.1 1595.0,222.0 1607.9,217.9 1620.7,208.5 1633.5,205.2 1646.3,221.0 1659.1,220.9 1671.9,213.7 1684.7,204.6 1697.5,195.2 1710.3,219.0 1723.1,220.9 1736.0,234.8 1748.8,246.8 1761.6,244.3 1774.4,253.5 1787.2,252.6 1800.0,250.5"/>
<polyline points="262.8,788.4 275.6,770.4 288.4,767.5 301.2,730.3 314.0,741.8 326.9,753.1 339.7,727.8 352.5,716.3 365.3,678.4 378.1,671.0 390.9,671.9 403.7,652.5 416.5,661.3 429.3,645.1 442.1,654.1 455.0,666.3 467.8,669.6 480.6,688.8 493.4,676.4 506.2,686.1 519.0,680.1 531.8,663.0 544.6,656.9 557.4,636.9 570.2,644.4 583.1,655.8 595.9,631.7 608.7,607.2 621.5,590.0 634.3,591.3 647.1,606.0 659.9,594.4 672.7,576.0 685.5,587.5 698.3,603.0 711.2,605.4 724.0,594.8 736.8,587.8 749.6,594.5 762.4,611.9 775.2,607.4 788.0,609.6 800.8,597.5 813.6,598.1 826.4,603.5 839.3,580.6 852.1,587.7 864.9,590.4 877.7,586.3 890.5,586.2 903.3,575.9 916.1,580.9 928.9,587.0 941.7,577.3 954.5,567.3 967.4,566.5 980.2,561.5 993.0,572.0 1005.8,542.3 1018.6,520.4 1031.4,514.7 1044.2,502.1 1057.0,509.7 1069.8,487.0 1082.6,471.4 1095.5,474.3 1108.3,460.0 1121.1,464.4 1133.9,464.9 1146.7,461.1 1159.5,466.4 1172.3,449.3 1185.1,442.9 1197.9,441.9 1210.7,450.9 1223.6,426.2 1236.4,395.5 1249.2,384.3 1262.0,384.0 1274.8,376.8 1287.6,365.8 1300.4,347.0 1313.2,337.3 1326.0,345.9 1338.8,337.5 1351.7,339.3 1364.5,339.1 1377.3,341.7 1390.1,326.4 1402.9,322.9 1415.7,310.3 1428.5,303.0 1441.3,296.5 1454.1,285.2 1466.9,275.6 1479.8,270.8 1492.6,258.1 1505.4,231.3 1518.2,198.0 1531.0,206.7 1543.8,211.8 1556.6,207.5 1569.4,186.8 1582.2,197.8 1595.0,203.1 1607.9,207.8 1620.7,217.4 1633.5,222.3 1646.3,233.2 1659.1,250.4 1671.9,244.5 1684.7,232.9 1697.5,237.2 1710.3,246.6 1723.1,250.4 1736.0,246.4 1748.8,249.5 1761.6,242.4 1774.4,235.0 1787.2,239.0 1800.0,246.9"/>
<polyline points="262.8,788.4 275.6,772.4 288.4,769.3 301.2,744.6 314.0,755.1 326.9,762.7 339.7,737.3 352.5,721.8 365.3,692.3 378.1,684.5 390.9,688.5 403.7,669.9 416.5,676.4 429.3,661.0 442.1,670.3 455.0,680.3 467.8,680.1 480.6,697.3 493.4,685.4 506.2,697.5 519.0,696.6 531.8,677.0 544.6,670.4 557.4,649.3 570.2,659.5 583.1,671.5 595.9,646.5 608.7,621.9 621.5,598.3 634.3,601.6 647.1,615.6 659.9,602.1 672.7,584.0 685.5,595.9 698.3,610.0 711.2,615.6 724.0,607.5 736.8,597.4 749.6,604.1 762.4,625.7 775.2,621.6 788.0,621.7 800.8,607.5 813.6,610.3 826.4,618.4 839.3,599.1 852.1,601.6 864.9,605.9 877.7,602.3 890.5,597.9 903.3,590.4 916.1,594.6 928.9,601.4 941.7,592.8 954.5,583.7 967.4,585.1 980.2,580.9 993.0,582.9 1005.8,558.0 1018.6,536.3 1031.4,531.9 1044.2,522.6 1057.0,527.2 1069.8,503.2 1082.6,486.4 1095.5,490.1 1108.3,481.3 1121.1,489.0 1133.9,482.9 1146.7,483.9 1159.5,490.1 1172.3,479.9 1185.1,481.4 1197.9,488.3 1210.7,482.4 1223.6,475.5 1236.4,451.9 1249.2,441.6 1262.0,432.3 1274.8,421.9 1287.6,404.6 1300.4,389.9 1313.2,382.4 1326.0,375.9 1338.8,362.5 1351.7,354.9 1364.5,354.5 1377.3,352.2 1390.1,338.0 1402.9,329.9 1415.7,318.4 1428.5,309.9 1441.3,302.7 1454.1,295.4 1466.9,288.0 1479.8,286.3 1492.6,276.9 1505.4,257.5 1518.2,239.4 1531.0,243.7 1543.8,249.6 1556.6,252.5 1569.4,238.1 1582.2,235.6 1595.0,240.5 1607.9,237.9 1620.7,240.9 1633.5,236.8 1646.3,248.4 1659.1,265.2 1671.9,262.3 1684.7,266.3 1697.5,269.6 1710.3,275.4 1723.1,282.6 1736.0,280.4 1748.8,284.8 1761.6,284.4 1774.4,284.8 1787.2,284.3 1800.0,283.4"/>
<polyline points="262.8,788.4 275.6,772.3 288.4,769.2 301.2,742.9 314.0,752.7 326.9,759.4 339.7,735.2 352.5,718.4 365.3,687.1 378.1,681.1 390.9,685.3 403.7,668.1 416.5,674.1 429.3,659.6 442.1,668.9 455.0,677.6 467.8,678.2 480.6,695.3 493.4,682.0 506.2,694.1 519.0,693.0 531.8,673.9 544.6,668.2 557.4,647.5 570.2,658.9 583.1,671.6 595.9,646.9 608.7,621.9 621.5,598.9 634.3,602.4 647.1,616.8 659.9,603.6 672.7,585.9 685.5,597.7 698.3,611.6 711.2,617.5 724.0,609.2 736.8,598.4 749.6,604.5 762.4,626.6 775.2,624.4 788.0,623.6 800.8,609.0 813.6,612.0 826.4,620.6 839.3,602.0 852.1,603.3 864.9,609.3 877.7,605.9 890.5,604.0 903.3,595.6 916.1,599.7 928.9,606.0 941.7,597.5 954.5,587.7 967.4,588.5 980.2,582.7 993.0,584.0 1005.8,558.7 1018.6,536.8 1031.4,532.5 1044.2,523.6 1057.0,528.6 1069.8,505.4 1082.6,492.3 1095.5,497.6 1108.3,491.2 1121.1,498.9 1133.9,492.1 1146.7,492.6 1159.5,496.6 1172.3,488.7 1185.1,491.6 1197.9,498.2 1210.7,491.3 1223.6,482.9 1236.4,459.4 1249.2,452.8 1262.0,446.9 1274.8,441.3 1287.6,432.3 1300.4,428.1 1313.2,424.8 1326.0,415.9 1338.8,403.3 1351.7,389.9 1364.5,389.0 1377.3,382.6 1390.1,370.6 1402.9,362.7 1415.7,348.9 1428.5,342.4 1441.3,336.4 1454.1,333.0 1466.9,328.1 1479.8,328.5 1492.6,328.0 1505.4,302.0 1518.2,282.9 1531.0,287.9 1543.8,290.6 1556.6,291.0 1569.4,275.7 1582.2,276.3 1595.0,281.2 1607.9,286.0 1620.7,285.1 1633.5,276.8 1646.3,287.9 1659.1,295.6 1671.9,293.3 1684.7,290.1 1697.5,293.2 1710.3,296.6 1723.1,298.8 1736.0,297.7 1748.8,303.0 1761.6,303.4 1774.4,305.1 1787.2,304.4 1800.0,312.6"/>
<polyline points="262.8,788.4 275.6,775.0 288.4,775.5 301.2,751.8 314.0,760.6 326.9,769.5 339.7,740.7 352.5,728.0 365.3,698.3 378.1,689.5 390.9,695.6 403.7,675.2 416.5,687.1 429.3,670.7 442.1,680.4 455.0,690.5 467.8,687.3 480.6,707.6 493.4,697.1 506.2,713.3 519.0,708.9 531.8,687.7 544.6,680.1 557.4,662.0 570.2,672.0 583.1,682.5 595.9,656.0 608.7,633.5 621.5,612.1 634.3,614.8 647.1,630.0 659.9,614.7 672.7,594.0 685.5,606.8 698.3,619.9 711.2,625.0 724.0,616.7 736.8,608.0 749.6,617.5 762.4,639.6 775.2,636.9 788.0,640.6 800.8,622.8 813.6,630.1 826.4,635.4 839.3,618.9 852.1,618.2 864.9,624.1 877.7,623.5 890.5,622.5 903.3,614.5 916.1,624.4 928.9,629.4 941.7,619.5 954.5,606.6 967.4,613.1 980.2,604.7 993.0,615.3 1005.8,584.6 1018.6,562.6 1031.4,567.2 1044.2,559.5 1057.0,561.2 1069.8,530.5 1082.6,520.6 1095.5,524.4 1108.3,520.8 1121.1,527.7 1133.9,517.3 1146.7,517.8 1159.5,516.4 1172.3,504.7 1185.1,510.6 1197.9,521.1 1210.7,518.6 1223.6,513.7 1236.4,496.1 1249.2,490.7 1262.0,487.3 1274.8,479.0 1287.6,465.7 1300.4,459.2 1313.2,451.8 1326.0,457.3 1338.8,444.2 1351.7,434.4 1364.5,426.2 1377.3,418.1 1390.1,402.1 1402.9,389.6 1415.7,380.5 1428.5,371.0 1441.3,362.0 1454.1,355.2 1466.9,354.7 1479.8,350.1 1492.6,336.5 1505.4,305.9 1518.2,285.7 1531.0,293.6 1543.8,288.1 1556.6,288.9 1569.4,276.6 1582.2,276.4 1595.0,279.3 1607.9,277.6 1620.7,278.6 1633.5,269.9 1646.3,278.1 1659.1,289.6 1671.9,287.6 1684.7,287.8 1697.5,295.6 1710.3,302.0 1723.1,307.4 1736.0,308.5 1748.8,317.6 1761.6,314.5 1774.4,314.8 1787.2,312.1 1800.0,315.7"/>
<polyline points="262.8,788.4 275.6,772.4 288.4,769.4 301.2,743.7 314.0,754.2 326.9,760.2 339.7,736.0 352.5,718.5 365.3,686.7 378.1,680.5 390.9,683.0 403.7,665.4 416.5,671.1 429.3,656.0 442.1,665.6 455.0,675.6 467.8,677.3 480.6,694.9 493.4,682.3 506.2,694.5 519.0,693.6 531.8,675.0 544.6,668.7 557.4,648.4 570.2,660.3 583.1,672.4 595.9,648.2 608.7,624.4 621.5,601.2 634.3,604.5 647.1,618.7 659.9,605.6 672.7,587.1 685.5,599.8 698.3,613.4 711.2,619.4 724.0,611.0 736.8,600.4 749.6,607.3 762.4,629.6 775.2,627.2 788.0,628.8 800.8,614.1 813.6,619.7 826.4,627.5 839.3,608.7 852.1,609.2 864.9,615.0 877.7,612.3 890.5,610.5 903.3,600.9 916.1,604.1 928.9,608.1 941.7,598.4 954.5,587.2 967.4,587.9 980.2,582.6 993.0,583.7 1005.8,558.4 1018.6,536.1 1031.4,531.8 1044.2,522.9 1057.0,527.7 1069.8,503.3 1082.6,487.0 1095.5,490.8 1108.3,482.7 1121.1,492.1 1133.9,486.7 1146.7,487.5 1159.5,494.2 1172.3,482.5 1185.1,483.0 1197.9,489.4 1210.7,483.8 1223.6,476.3 1236.4,455.5 1249.2,448.9 1262.0,440.9 1274.8,433.1 1287.6,421.4 1300.4,413.3 1313.2,405.6 1326.0,397.4 1338.8,386.3 1351.7,372.6 1364.5,367.7 1377.3,364.9 1390.1,352.8 1402.9,344.1 1415.7,331.8 1428.5,329.0 1441.3,319.6 1454.1,313.8 1466.9,303.2 1479.8,296.2 1492.6,288.8 1505.4,266.6 1518.2,249.5 1531.0,255.2 1543.8,261.0 1556.6,265.7 1569.4,255.0 1582.2,262.0 1595.0,276.3 1607.9,279.7 1620.7,283.4 1633.5,281.0 1646.3,285.1 1659.1,291.0 1671.9,290.2 1684.7,287.6 1697.5,285.9 1710.3,293.4 1723.1,301.7 1736.0,306.0 1748.8,311.3 1761.6,318.3 1774.4,320.2 1787.2,329.8 1800.0,331.9"/>
<polyline points="262.8,788.4 275.6,771.1 288.4,768.4 301.2,738.4 314.0,749.3 326.9,757.4 339.7,733.3 352.5,717.8 365.3,684.8 378.1,678.0 390.9,681.5 403.7,663.3 416.5,669.5 429.3,654.6 442.1,663.9 455.0,673.5 467.8,673.8 480.6,693.0 493.4,679.8 506.2,691.4 519.0,689.5 531.8,672.1 544.6,665.7 557.4,645.6 570.2,656.5 583.1,668.5 595.9,643.7 608.7,618.5 621.5,596.2 634.3,598.7 647.1,613.1 659.9,601.9 672.7,584.5 685.5,596.4 698.3,610.9 711.2,617.1 724.0,608.7 736.8,598.1 749.6,604.2 762.4,626.3 775.2,622.8 788.0,622.0 800.8,608.0 813.6,611.4 826.4,619.8 839.3,601.0 852.1,601.1 864.9,604.1 877.7,598.8 890.5,593.7 903.3,583.7 916.1,589.7 928.9,594.7 941.7,585.3 954.5,576.6 967.4,578.3 980.2,573.2 993.0,578.2 1005.8,552.4 1018.6,531.9 1031.4,526.4 1044.2,517.3 1057.0,522.3 1069.8,499.2 1082.6,482.4 1095.5,484.1 1108.3,473.7 1121.1,478.7 1133.9,473.7 1146.7,474.1 1159.5,481.7 1172.3,470.4 1185.1,471.0 1197.9,476.6 1210.7,475.1 1223.6,466.3 1236.4,441.5 1249.2,426.6 1262.0,413.2 1274.8,395.6 1287.6,370.1 1300.4,351.0 1313.2,342.7 1326.0,345.8 1338.8,342.3 1351.7,346.7 1364.5,345.6 1377.3,338.1 1390.1,323.3 1402.9,313.5 1415.7,297.6 1428.5,282.2 1441.3,264.8 1454.1,252.7 1466.9,235.7 1479.8,233.7 1492.6,218.0 1505.4,197.3 1518.2,187.1 1531.0,203.8 1543.8,214.7 1556.6,225.4 1569.4,217.2 1582.2,213.5 1595.0,217.6 1607.9,215.2 1620.7,212.4 1633.5,208.1 1646.3,219.3 1659.1,236.4 1671.9,221.7 1684.7,214.7 1697.5,215.9 1710.3,216.5 1723.1,219.7 1736.0,208.0 1748.8,219.1 1761.6,215.7 1774.4,211.9 1787.2,216.5 1800.0,222.8"/>
<polyline points="262.8,788.4 275.6,773.7 288.4,771.8 301.2,747.4 314.0,757.2 326.9,763.7 339.7,737.8 352.5,722.5 365.3,691.7 378.1,684.4 390.9,689.2 403.7,669.8 416.5,677.0 429.3,661.7 442.1,672.0 455.0,682.0 467.8,681.7 480.6,699.8 493.4,687.7 506.2,702.0 519.0,700.2 531.8,680.6 544.6,673.3 557.4,654.8 570.2,666.0 583.1,676.9 595.9,652.6 608.7,627.8 621.5,606.2 634.3,610.5 647.1,626.8 659.9,613.3 672.7,595.6 685.5,608.8 698.3,621.5 711.2,626.3 724.0,616.3 736.8,606.5 749.6,614.6 762.4,637.7 775.2,633.9 788.0,636.8 800.8,620.3 813.6,627.3 826.4,634.1 839.3,616.3 852.1,616.6 864.9,622.4 877.7,620.6 890.5,617.8 903.3,609.4 916.1,615.2 928.9,620.0 941.7,610.0 954.5,598.4 967.4,604.4 980.2,598.1 993.0,605.3 1005.8,575.2 1018.6,556.8 1031.4,553.0 1044.2,544.0 1057.0,546.8 1069.8,517.3 1082.6,506.1 1095.5,507.3 1108.3,499.5 1121.1,507.0 1133.9,499.2 1146.7,496.3 1159.5,499.9 1172.3,489.2 1185.1,493.1 1197.9,508.9 1210.7,508.7 1223.6,506.5 1236.4,492.6 1249.2,493.1 1262.0,490.3 1274.8,479.3 1287.6,460.2 1300.4,444.5 1313.2,435.3 1326.0,420.6 1338.8,407.1 1351.7,403.7 1364.5,399.3 1377.3,395.1 1390.1,386.3 1402.9,374.9 1415.7,357.7 1428.5,351.7 1441.3,341.2 1454.1,329.2 1466.9,317.6 1479.8,312.5 1492.6,300.2 1505.4,278.2 1518.2,263.9 1531.0,259.1 1543.8,262.9 1556.6,263.3 1569.4,250.9 1582.2,248.2 1595.0,254.3 1607.9,253.6 1620.7,258.3 1633.5,254.1 1646.3,267.5 1659.1,282.1 1671.9,283.7 1684.7,283.3 1697.5,287.1 1710.3,291.0 1723.1,297.9 1736.0,295.7 1748.8,302.0 1761.6,293.7 1774.4,294.3 1787.2,293.5 1800.0,293.2"/>
<polyline points="262.8,788.4 275.6,774.1 288.4,773.4 301.2,748.8 314.0,757.9 326.9,765.0 339.7,738.0 352.5,722.3 365.3,691.4 378.1,684.5 390.9,688.6 403.7,670.3 416.5,677.3 429.3,661.6 442.1,671.3 455.0,680.6 467.8,680.5 480.6,698.3 493.4,685.8 506.2,698.9 519.0,697.5 531.8,677.9 544.6,672.0 557.4,652.9 570.2,665.0 583.1,676.5 595.9,651.0 608.7,625.9 621.5,603.3 634.3,606.6 647.1,620.3 659.9,607.7 672.7,589.7 685.5,601.9 698.3,616.5 711.2,621.6 724.0,613.5 736.8,604.3 749.6,611.8 762.4,632.5 775.2,630.7 788.0,631.8 800.8,616.0 813.6,620.6 826.4,629.4 839.3,612.1 852.1,614.3 864.9,621.5 877.7,620.1 890.5,617.6 903.3,608.5 916.1,612.5 928.9,616.0 941.7,603.4 954.5,593.7 967.4,595.9 980.2,589.0 993.0,593.4 1005.8,567.3 1018.6,546.7 1031.4,543.0 1044.2,533.9 1057.0,534.3 1069.8,507.8 1082.6,491.7 1095.5,494.9 1108.3,486.4 1121.1,494.9 1133.9,489.7 1146.7,488.8 1159.5,493.2 1172.3,482.4 1185.1,484.8 1197.9,489.5 1210.7,483.3 1223.6,476.0 1236.4,454.2 1249.2,447.8 1262.0,440.9 1274.8,433.4 1287.6,421.9 1300.4,415.3 1313.2,410.9 1326.0,407.0 1338.8,399.0 1351.7,383.4 1364.5,385.7 1377.3,384.9 1390.1,373.1 1402.9,362.4 1415.7,349.7 1428.5,345.8 1441.3,331.0 1454.1,323.5 1466.9,315.5 1479.8,308.0 1492.6,304.7 1505.4,288.8 1518.2,271.3 1531.0,285.6 1543.8,286.2 1556.6,283.8 1569.4,275.8 1582.2,275.2 1595.0,288.0 1607.9,284.5 1620.7,289.0 1633.5,296.0 1646.3,306.2 1659.1,330.2 1671.9,332.4 1684.7,335.8 1697.5,343.6 1710.3,356.5 1723.1,366.7 1736.0,373.8 1748.8,368.6 1761.6,375.8 1774.4,367.7 1787.2,377.4 1800.0,382.7"/>
<polyline points="262.8,788.4 275.6,774.4 288.4,774.6 301.2,751.2 314.0,760.3 326.9,769.2 339.7,740.5 352.5,726.7 365.3,697.4 378.1,687.9 390.9,694.0 403.7,673.3 416.5,681.8 429.3,666.7 442.1,676.6 455.0,687.2 467.8,685.1 480.6,702.7 493.4,690.8 506.2,704.5 519.0,701.5 531.8,681.9 544.6,675.7 557.4,658.0 570.2,668.3 583.1,680.5 595.9,655.4 608.7,631.7 621.5,609.7 634.3,613.9 647.1,630.1 659.9,614.9 672.7,595.9 685.5,608.8 698.3,622.8 711.2,626.8 724.0,617.7 736.8,607.1 749.6,616.7 762.4,637.4 775.2,635.1 788.0,639.7 800.8,623.4 813.6,628.7 826.4,634.7 839.3,619.3 852.1,616.9 864.9,622.1 877.7,620.7 890.5,617.7 903.3,610.7 916.1,616.9 928.9,621.9 941.7,613.1 954.5,603.4 967.4,608.9 980.2,601.8 993.0,610.2 1005.8,576.2 1018.6,553.0 1031.4,549.0 1044.2,536.9 1057.0,539.3 1069.8,515.2 1082.6,500.8 1095.5,504.2 1108.3,502.2 1121.1,510.3 1133.9,503.8 1146.7,502.0 1159.5,505.4 1172.3,495.8 1185.1,501.7 1197.9,514.5 1210.7,511.4 1223.6,508.9 1236.4,486.7 1249.2,487.6 1262.0,484.3 1274.8,478.6 1287.6,463.0 1300.4,461.7 1313.2,461.3 1326.0,451.9 1338.8,434.5 1351.7,417.2 1364.5,408.0 1377.3,410.4 1390.1,403.1 1402.9,382.0 1415.7,380.9 1428.5,380.6 1441.3,368.3 1454.1,359.1 1466.9,345.2 1479.8,335.9 1492.6,329.1 1505.4,305.7 1518.2,290.4 1531.0,297.2 1543.8,299.4 1556.6,308.1 1569.4,296.8 1582.2,302.0 1595.0,310.9 1607.9,305.0 1620.7,312.8 1633.5,306.9 1646.3,319.2 1659.1,336.8 1671.9,335.5 1684.7,342.0 1697.5,346.3 1710.3,355.3 1723.1,354.6 1736.0,359.1 1748.8,359.1 1761.6,367.9 1774.4,360.6 1787.2,371.8 1800.0,371.3"/>
<polyline points="262.8,788.4 275.6,771.7 288.4,768.7 301.2,740.8 314.0,751.5 326.9,758.9 339.7,734.4 352.5,718.3 365.3,686.4 378.1,680.3 390.9,682.7 403.7,665.6 416.5,670.2 429.3,656.2 442.1,665.6 455.0,675.5 467.8,676.6 480.6,693.9 493.4,681.1 506.2,692.9 519.0,690.3 531.8,672.0 544.6,667.0 557.4,645.7 570.2,658.2 583.1,670.3 595.9,644.8 608.7,619.7 621.5,597.6 634.3,600.6 647.1,615.3 659.9,602.1 672.7,583.9 685.5,595.2 698.3,609.7 711.2,614.4 724.0,606.3 736.8,596.5 749.6,603.1 762.4,623.8 775.2,621.6 788.0,621.2 800.8,607.2 813.6,610.7 826.4,619.6 839.3,601.6 852.1,603.7 864.9,609.5 877.7,605.1 890.5,603.1 903.3,592.9 916.1,596.8 928.9,602.4 941.7,590.8 954.5,580.1 967.4,580.3 980.2,576.2 993.0,578.9 1005.8,555.1 1018.6,534.6 1031.4,531.0 1044.2,522.4 1057.0,527.4 1069.8,503.4 1082.6,487.0 1095.5,491.3 1108.3,486.4 1121.1,494.5 1133.9,488.2 1146.7,489.3 1159.5,494.1 1172.3,483.6 1185.1,485.2 1197.9,492.9 1210.7,486.0 1223.6,477.1 1236.4,454.7 1249.2,447.8 1262.0,440.3 1274.8,430.8 1287.6,416.4 1300.4,406.6 1313.2,397.4 1326.0,390.1 1338.8,381.7 1351.7,369.3 1364.5,365.8 1377.3,361.3 1390.1,347.1 1402.9,335.7 1415.7,320.4 1428.5,312.5 1441.3,300.1 1454.1,292.9 1466.9,279.7 1479.8,270.0 1492.6,260.6 1505.4,232.2 1518.2,221.9 1531.0,223.1 1543.8,236.9 1556.6,240.9 1569.4,222.0 1582.2,223.8 1595.0,230.8 1607.9,231.2 1620.7,238.6 1633.5,237.5 1646.3,250.0 1659.1,267.4 1671.9,262.8 1684.7,267.5 1697.5,268.2 1710.3,274.7 1723.1,283.6 1736.0,282.8 1748.8,288.8 1761.6,289.2 1774.4,288.2 1787.2,287.9 1800.0,287.3"/>
<polyline points="262.8,788.4 275.6,771.9 288.4,768.8 301.2,740.2 314.0,749.9 326.9,757.3 339.7,732.5 352.5,717.5 365.3,683.6 378.1,676.8 390.9,679.9 403.7,662.7 416.5,670.2 429.3,655.3 442.1,664.4 455.0,673.9 467.8,675.0 480.6,693.3 493.4,680.8 506.2,692.6 519.0,690.8 531.8,671.9 544.6,666.0 557.4,645.1 570.2,657.2 583.1,670.1 595.9,645.8 608.7,622.2 621.5,599.0 634.3,602.7 647.1,617.1 659.9,605.0 672.7,587.3 685.5,599.8 698.3,614.4 711.2,620.6 724.0,612.5 736.8,601.4 749.6,608.3 762.4,631.0 775.2,628.5 788.0,628.7 800.8,613.1 813.6,618.6 826.4,625.7 839.3,607.7 852.1,609.7 864.9,615.6 877.7,612.7 890.5,610.6 903.3,601.5 916.1,606.3 928.9,611.5 941.7,602.6 954.5,592.3 967.4,594.7 980.2,589.9 993.0,592.8 1005.8,566.1 1018.6,544.0 1031.4,541.2 1044.2,533.4 1057.0,534.5 1069.8,510.6 1082.6,496.0 1095.5,501.9 1108.3,498.1 1121.1,504.7 1133.9,499.5 1146.7,499.6 1159.5,504.2 1172.3,493.3 1185.1,497.1 1197.9,508.7 1210.7,500.5 1223.6,491.7 1236.4,469.8 1249.2,462.6 1262.0,459.1 1274.8,455.4 1287.6,438.5 1300.4,432.0 1313.2,419.9 1326.0,408.3 1338.8,390.6 1351.7,373.7 1364.5,367.6 1377.3,362.1 1390.1,347.1 1402.9,334.9 1415.7,323.0 1428.5,317.9 1441.3,310.9 1454.1,305.1 1466.9,295.4 1479.8,291.3 1492.6,283.4 1505.4,263.7 1518.2,243.0 1531.0,247.2 1543.8,251.6 1556.6,255.9 1569.4,241.0 1582.2,241.3 1595.0,245.5 1607.9,247.4 1620.7,247.7 1633.5,244.7 1646.3,254.4 1659.1,267.2 1671.9,261.6 1684.7,258.1 1697.5,256.3 1710.3,261.6 1723.1,272.3 1736.0,270.0 1748.8,276.9 1761.6,275.2 1774.4,279.2 1787.2,279.2 1800.0,283.0"/>
<polyline points="262.8,788.4 275.6,771.7 288.4,768.6 301.2,739.1 314.0,750.8 326.9,758.0 339.7,732.7 352.5,717.7 365.3,684.5 378.1,677.7 390.9,680.9 403.7,663.5 416.5,669.1 429.3,653.2 442.1,664.2 455.0,673.0 467.8,674.5 480.6,693.3 493.4,680.8 506.2,692.4 519.0,689.3 531.8,671.1 544.6,664.6 557.4,643.8 570.2,653.0 583.1,664.7 595.9,639.0 608.7,613.5 621.5,593.8 634.3,595.3 647.1,610.6 659.9,599.2 672.7,581.8 685.5,595.5 698.3,610.3 711.2,615.0 724.0,606.0 736.8,595.3 749.6,599.7 762.4,617.5 775.2,611.2 788.0,611.9 800.8,601.2 813.6,602.1 826.4,610.2 839.3,589.7 852.1,590.7 864.9,589.3 877.7,585.5 890.5,582.6 903.3,570.9 916.1,575.0 928.9,580.8 941.7,569.2 954.5,565.6 967.4,569.0 980.2,565.8 993.0,573.7 1005.8,546.8 1018.6,526.5 1031.4,518.3 1044.2,507.4 1057.0,508.7 1069.8,489.1 1082.6,466.9 1095.5,471.3 1108.3,464.7 1121.1,469.1 1133.9,465.2 1146.7,466.9 1159.5,477.7 1172.3,462.1 1185.1,462.9 1197.9,462.8 1210.7,461.0 1223.6,440.4 1236.4,408.3 1249.2,387.2 1262.0,381.8 1274.8,376.8 1287.6,358.9 1300.4,358.7 1313.2,359.8 1326.0,352.4 1338.8,339.2 1351.7,330.0 1364.5,335.6 1377.3,325.1 1390.1,319.5 1402.9,308.7 1415.7,288.4 1428.5,274.1 1441.3,268.9 1454.1,253.4 1466.9,250.4 1479.8,249.6 1492.6,238.7 1505.4,213.0 1518.2,196.8 1531.0,199.6 1543.8,201.5 1556.6,205.0 1569.4,187.7 1582.2,194.2 1595.0,209.1 1607.9,229.6 1620.7,227.0 1633.5,232.9 1646.3,246.6 1659.1,256.9 1671.9,255.6 1684.7,254.0 1697.5,257.4 1710.3,265.0 1723.1,268.3 1736.0,269.4 1748.8,272.9 1761.6,271.8 1774.4,269.6 1787.2,261.1 1800.0,261.8"/>
<polyline points="262.8,788.4 275.6,770.3 288.4,767.4 301.2,731.1 314.0,743.2 326.9,754.7 339.7,728.7 352.5,716.4 365.3,679.4 378.1,671.2 390.9,671.0 403.7,650.6 416.5,659.3 429.3,642.4 442.1,651.6 455.0,661.4 467.8,666.5 480.6,688.0 493.4,676.0 506.2,686.7 519.0,682.3 531.8,663.2 544.6,657.5 557.4,637.5 570.2,643.4 583.1,654.0 595.9,628.2 608.7,603.8 621.5,588.1 634.3,589.6 647.1,603.4 659.9,593.7 672.7,576.2 685.5,590.2 698.3,605.9 711.2,611.6 724.0,603.1 736.8,594.1 749.6,599.5 762.4,619.8 775.2,615.9 788.0,616.1 800.8,603.3 813.6,605.6 826.4,615.3 839.3,594.7 852.1,596.6 864.9,599.0 877.7,594.4 890.5,589.9 903.3,579.3 916.1,584.5 928.9,586.1 941.7,575.9 954.5,566.5 967.4,560.5 980.2,554.4 993.0,563.7 1005.8,533.9 1018.6,511.5 1031.4,505.4 1044.2,490.4 1057.0,493.5 1069.8,474.0 1082.6,457.8 1095.5,461.5 1108.3,447.6 1121.1,456.0 1133.9,459.1 1146.7,467.2 1159.5,477.0 1172.3,463.5 1185.1,454.3 1197.9,445.9 1210.7,444.9 1223.6,428.8 1236.4,405.5 1249.2,401.8 1262.0,393.2 1274.8,391.9 1287.6,387.1 1300.4,382.1 1313.2,375.7 1326.0,371.5 1338.8,363.6 1351.7,354.2 1364.5,346.3 1377.3,341.8 1390.1,323.6 1402.9,312.7 1415.7,307.3 1428.5,303.5 1441.3,300.3 1454.1,294.3 1466.9,289.1 1479.8,282.0 1492.6,269.0 1505.4,240.6 1518.2,225.7 1531.0,226.5 1543.8,236.4 1556.6,243.1 1569.4,230.5 1582.2,235.2 1595.0,241.1 1607.9,244.1 1620.7,246.4 1633.5,244.2 1646.3,260.0 1659.1,271.6 1671.9,270.9 1684.7,267.5 1697.5,265.8 1710.3,264.7 1723.1,266.9 1736.0,258.1 1748.8,253.4 1761.6,239.8 1774.4,234.4 1787.2,235.4 1800.0,230.7"/>
<polyline points="262.8,788.4 275.6,770.9 288.4,767.8 301.2,735.0 314.0,745.0 326.9,754.9 339.7,729.3 352.5,716.4 365.3,679.9 378.1,670.4 390.9,673.1 403.7,652.4 416.5,660.7 429.3,643.0 442.1,652.8 455.0,661.0 467.8,665.4 480.6,686.4 493.4,674.7 506.2,683.4 519.0,677.7 531.8,660.8 544.6,656.3 557.4,637.9 570.2,647.1 583.1,658.5 595.9,636.3 608.7,612.2 621.5,593.8 634.3,597.4 647.1,612.4 659.9,601.3 672.7,584.3 685.5,596.5 698.3,610.8 711.2,616.3 724.0,607.5 736.8,597.3 749.6,603.0 762.4,624.9 775.2,622.0 788.0,621.8 800.8,607.6 813.6,610.1 826.4,619.0 839.3,598.9 852.1,599.5 864.9,603.8 877.7,596.4 890.5,591.4 903.3,578.3 916.1,579.4 928.9,583.1 941.7,571.4 954.5,565.2 967.4,564.4 980.2,556.8 993.0,566.9 1005.8,542.2 1018.6,521.1 1031.4,518.0 1044.2,511.1 1057.0,516.1 1069.8,491.1 1082.6,472.0 1095.5,474.4 1108.3,463.5 1121.1,467.4 1133.9,465.4 1146.7,467.3 1159.5,479.1 1172.3,467.1 1185.1,469.5 1197.9,475.4 1210.7,475.7 1223.6,467.4 1236.4,443.6 1249.2,435.1 1262.0,426.3 1274.8,421.6 1287.6,411.0 1300.4,401.2 1313.2,395.5 1326.0,388.0 1338.8,377.8 1351.7,366.1 1364.5,360.9 1377.3,356.1 1390.1,337.8 1402.9,326.7 1415.7,315.2 1428.5,306.4 1441.3,292.9 1454.1,290.1 1466.9,274.7 1479.8,262.9 1492.6,243.5 1505.4,227.0 1518.2,207.7 1531.0,216.2 1543.8,224.7 1556.6,220.1 1569.4,197.1 1582.2,185.3 1595.0,192.1 1607.9,186.7 1620.7,176.2 1633.5,178.3 1646.3,192.7 1659.1,206.9 1671.9,193.0 1684.7,189.8 1697.5,192.8 1710.3,201.8 1723.1,205.2 1736.0,206.8 1748.8,216.8 1761.6,209.9 1774.4,209.9 1787.2,212.5 1800.0,220.7"/>
<polyline points="262.8,788.4 275.6,773.6 288.4,772.2 301.2,747.7 314.0,757.0 326.9,763.7 339.7,737.4 352.5,721.7 365.3,690.6 378.1,683.2 390.9,687.1 403.7,668.4 416.5,673.3 429.3,657.9 442.1,667.1 455.0,676.0 467.8,676.7 480.6,694.5 493.4,681.6 506.2,693.9 519.0,692.0 531.8,673.9 544.6,668.2 557.4,647.3 570.2,659.0 583.1,671.5 595.9,646.9 608.7,622.5 621.5,599.1 634.3,602.9 647.1,617.2 659.9,604.2 672.7,586.2 685.5,598.2 698.3,612.0 711.2,618.2 724.0,609.7 736.8,598.9 749.6,604.9 762.4,627.1 775.2,624.7 788.0,624.4 800.8,610.2 813.6,614.5 826.4,623.0 839.3,605.9 852.1,606.6 864.9,612.6 877.7,608.8 890.5,606.2 903.3,597.2 916.1,601.2 928.9,607.4 941.7,598.1 954.5,587.7 967.4,589.8 980.2,583.4 993.0,586.2 1005.8,559.4 1018.6,538.7 1031.4,533.7 1044.2,524.8 1057.0,528.9 1069.8,504.3 1082.6,487.0 1095.5,491.0 1108.3,481.7 1121.1,489.2 1133.9,482.9 1146.7,484.6 1159.5,490.3 1172.3,480.1 1185.1,481.6 1197.9,488.3 1210.7,482.3 1223.6,475.7 1236.4,454.1 1249.2,447.7 1262.0,440.6 1274.8,432.9 1287.6,420.3 1300.4,411.5 1313.2,401.3 1326.0,390.6 1338.8,381.8 1351.7,369.6 1364.5,366.1 1377.3,362.8 1390.1,350.5 1402.9,339.0 1415.7,329.5 1428.5,323.9 1441.3,314.8 1454.1,307.6 1466.9,298.5 1479.8,292.6 1492.6,283.2 1505.4,260.7 1518.2,245.3 1531.0,248.6 1543.8,255.5 1556.6,258.8 1569.4,244.1 1582.2,244.2 1595.0,249.7 1607.9,250.6 1620.7,254.3 1633.5,252.5 1646.3,265.7 1659.1,279.1 1671.9,278.3 1684.7,276.9 1697.5,278.6 1710.3,285.4 1723.1,289.2 1736.0,287.9 1748.8,291.3 1761.6,291.3 1774.4,290.6 1787.2,291.4 1800.0,290.1"/>
<polyline points="262.8,788.4 275.6,773.9 288.4,773.4 301.2,749.6 314.0,759.3 326.9,767.1 339.7,739.3 352.5,725.5 365.3,696.1 378.1,686.6 390.9,691.6 403.7,671.5 416.5,678.4 429.3,663.7 442.1,674.8 455.0,684.9 467.8,684.1 480.6,702.7 493.4,691.4 506.2,705.5 519.0,702.6 531.8,682.9 544.6,676.1 557.4,657.4 570.2,667.9 583.1,679.4 595.9,653.2 608.7,628.5 621.5,605.9 634.3,608.4 647.1,621.7 659.9,607.6 672.7,589.8 685.5,600.2 698.3,613.8 711.2,619.6 724.0,610.4 736.8,599.2 749.6,605.4 762.4,628.2 775.2,625.7 788.0,626.6 800.8,612.8 813.6,619.0 826.4,626.9 839.3,609.9 852.1,611.3 864.9,617.1 877.7,615.0 890.5,612.2 903.3,603.4 916.1,608.9 928.9,614.1 941.7,606.2 954.5,596.4 967.4,599.0 980.2,593.5 993.0,599.9 1005.8,572.1 1018.6,549.9 1031.4,546.6 1044.2,538.6 1057.0,538.8 1069.8,511.0 1082.6,494.6 1095.5,497.8 1108.3,487.3 1121.1,491.9 1133.9,484.8 1146.7,485.4 1159.5,490.6 1172.3,480.4 1185.1,481.9 1197.9,488.9 1210.7,483.0 1223.6,476.9 1236.4,456.6 1249.2,450.7 1262.0,446.9 1274.8,443.1 1287.6,430.3 1300.4,421.8 1313.2,415.3 1326.0,403.1 1338.8,394.5 1351.7,379.5 1364.5,383.1 1377.3,384.3 1390.1,373.0 1402.9,359.8 1415.7,352.7 1428.5,343.5 1441.3,329.4 1454.1,318.6 1466.9,306.4 1479.8,299.8 1492.6,293.4 1505.4,271.6 1518.2,255.4 1531.0,263.4 1543.8,270.9 1556.6,275.4 1569.4,261.2 1582.2,261.5 1595.0,267.8 1607.9,270.5 1620.7,274.9 1633.5,282.4 1646.3,288.9 1659.1,307.6 1671.9,308.5 1684.7,304.8 1697.5,311.8 1710.3,315.8 1723.1,326.4 1736.0,323.9 1748.8,336.1 1761.6,353.9 1774.4,347.9 1787.2,358.9 1800.0,352.5"/>
<polyline points="262.8,788.4 275.6,775.1 288.4,775.9 301.2,753.0 314.0,762.1 326.9,772.1 339.7,741.8 352.5,730.9 365.3,701.3 378.1,691.4 390.9,697.7 403.7,675.5 416.5,686.3 429.3,670.4 442.1,681.5 455.0,693.1 467.8,688.8 480.6,707.7 493.4,696.4 506.2,710.5 519.0,707.4 531.8,686.4 544.6,679.5 557.4,661.4 570.2,673.0 583.1,683.6 595.9,658.0 608.7,634.3 621.5,613.0 634.3,615.3 647.1,629.4 659.9,614.7 672.7,595.6 685.5,607.8 698.3,621.0 711.2,625.7 724.0,616.6 736.8,606.2 749.6,614.3 762.4,635.0 775.2,631.3 788.0,633.3 800.8,617.8 813.6,623.9 826.4,631.7 839.3,614.4 852.1,614.2 864.9,620.6 877.7,617.7 890.5,615.8 903.3,605.9 916.1,611.9 928.9,616.4 941.7,607.3 954.5,595.0 967.4,600.4 980.2,595.3 993.0,602.8 1005.8,575.6 1018.6,556.5 1031.4,552.5 1044.2,544.9 1057.0,547.2 1069.8,520.6 1082.6,505.8 1095.5,508.9 1108.3,502.8 1121.1,510.0 1133.9,501.1 1146.7,502.6 1159.5,505.8 1172.3,498.6 1185.1,504.2 1197.9,514.5 1210.7,506.6 1223.6,498.4 1236.4,480.1 1249.2,477.3 1262.0,481.7 1274.8,479.5 1287.6,470.1 1300.4,467.5 1313.2,460.7 1326.0,454.1 1338.8,439.1 1351.7,420.0 1364.5,413.4 1377.3,399.6 1390.1,386.3 1402.9,372.5 1415.7,362.5 1428.5,354.6 1441.3,355.5 1454.1,348.6 1466.9,344.6 1479.8,346.1 1492.6,340.8 1505.4,318.2 1518.2,304.2 1531.0,310.0 1543.8,313.2 1556.6,309.2 1569.4,294.1 1582.2,298.8 1595.0,302.7 1607.9,307.2 1620.7,310.1 1633.5,311.5 1646.3,319.6 1659.1,340.3 1671.9,345.5 1684.7,344.8 1697.5,355.8 1710.3,351.4 1723.1,355.2 1736.0,353.9 1748.8,342.7 1761.6,345.1 1774.4,336.7 1787.2,344.6 1800.0,342.0"/>
<polyline points="262.8,788.4 275.6,771.3 288.4,768.1 301.2,735.3 314.0,745.5 326.9,754.8 339.7,729.8 352.5,717.0 365.3,682.1 378.1,674.4 390.9,677.0 403.7,658.8 416.5,666.4 429.3,651.8 442.1,661.5 455.0,671.2 467.8,673.2 480.6,691.9 493.4,679.3 506.2,691.1 519.0,689.0 531.8,671.2 544.6,665.4 557.4,644.3 570.2,655.9 583.1,667.1 595.9,641.3 608.7,617.0 621.5,595.7 634.3,598.1 647.1,611.9 659.9,599.4 672.7,581.2 685.5,594.0 698.3,608.7 711.2,614.7 724.0,606.3 736.8,595.9 749.6,602.2 762.4,622.9 775.2,620.0 788.0,619.0 800.8,605.8 813.6,609.5 826.4,618.0 839.3,599.4 852.1,602.2 864.9,607.9 877.7,603.9 890.5,601.2 903.3,593.1 916.1,595.0 928.9,599.7 941.7,588.8 954.5,575.5 967.4,577.1 980.2,572.7 993.0,576.8 1005.8,550.7 1018.6,529.8 1031.4,521.8 1044.2,508.0 1057.0,505.1 1069.8,480.1 1082.6,461.1 1095.5,461.3 1108.3,447.7 1121.1,453.9 1133.9,453.2 1146.7,461.8 1159.5,470.5 1172.3,457.9 1185.1,456.9 1197.9,455.6 1210.7,460.4 1223.6,449.4 1236.4,424.6 1249.2,420.4 1262.0,419.7 1274.8,415.4 1287.6,408.0 1300.4,398.1 1313.2,394.6 1326.0,387.7 1338.8,376.3 1351.7,364.2 1364.5,358.2 1377.3,352.1 1390.1,332.2 1402.9,316.4 1415.7,299.0 1428.5,281.0 1441.3,256.9 1454.1,235.7 1466.9,223.0 1479.8,216.2 1492.6,211.2 1505.4,171.8 1518.2,172.1 1531.0,167.8 1543.8,173.9 1556.6,168.0 1569.4,148.1 1582.2,151.5 1595.0,158.8 1607.9,164.9 1620.7,165.6 1633.5,168.9 1646.3,178.5 1659.1,202.1 1671.9,209.3 1684.7,211.6 1697.5,208.9 1710.3,214.9 1723.1,225.1 1736.0,217.1 1748.8,212.0 1761.6,214.0 1774.4,216.7 1787.2,214.9 1800.0,223.9"/>
<polyline points="262.8,788.4 275.6,772.1 288.4,769.1 301.2,742.7 314.0,753.0 326.9,759.2 339.7,734.8 352.5,718.3 365.3,686.4 378.1,680.4 390.9,684.2 403.7,667.0 416.5,673.2 429.3,659.2 442.1,668.1 455.0,677.6 467.8,678.2 480.6,695.3 493.4,682.1 506.2,694.2 519.0,692.3 531.8,672.9 544.6,667.3 557.4,646.3 570.2,657.6 583.1,670.4 595.9,646.3 608.7,622.0 621.5,599.0 634.3,602.6 647.1,616.8 659.9,604.0 672.7,585.9 685.5,597.2 698.3,610.6 711.2,616.0 724.0,605.6 736.8,595.1 749.6,600.9 762.4,621.9 775.2,617.8 788.0,617.2 800.8,605.0 813.6,607.7 826.4,617.2 839.3,597.5 852.1,599.9 864.9,605.1 877.7,599.3 890.5,597.1 903.3,588.7 916.1,592.8 928.9,598.8 941.7,590.0 954.5,580.0 967.4,580.9 980.2,576.8 993.0,581.5 1005.8,557.3 1018.6,535.1 1031.4,529.6 1044.2,517.7 1057.0,516.7 1069.8,491.9 1082.6,470.1 1095.5,472.7 1108.3,460.1 1121.1,464.8 1133.9,461.3 1146.7,463.2 1159.5,474.4 1172.3,458.2 1185.1,453.6 1197.9,459.0 1210.7,461.3 1223.6,446.3 1236.4,426.6 1249.2,414.4 1262.0,410.5 1274.8,404.9 1287.6,395.5 1300.4,388.6 1313.2,381.2 1326.0,367.5 1338.8,350.7 1351.7,336.9 1364.5,327.8 1377.3,319.7 1390.1,309.0 1402.9,296.7 1415.7,281.0 1428.5,279.0 1441.3,278.8 1454.1,272.9 1466.9,280.7 1479.8,278.6 1492.6,273.3 1505.4,252.3 1518.2,236.1 1531.0,240.8 1543.8,244.1 1556.6,247.2 1569.4,228.2 1582.2,230.1 1595.0,237.5 1607.9,239.7 1620.7,244.7 1633.5,248.4 1646.3,262.2 1659.1,276.3 1671.9,276.3 1684.7,275.6 1697.5,276.4 1710.3,282.0 1723.1,288.1 1736.0,285.9 1748.8,290.1 1761.6,290.1 1774.4,289.5 1787.2,289.6 1800.0,289.7"/>
<polyline points="262.8,788.4 275.6,774.7 288.4,774.4 301.2,750.6 314.0,758.7 326.9,766.9 339.7,739.4 352.5,726.0 365.3,696.8 378.1,688.1 390.9,692.6 403.7,672.9 416.5,681.2 429.3,665.7 442.1,677.0 455.0,688.0 467.8,685.4 480.6,703.5 493.4,691.0 506.2,705.7 519.0,701.7 531.8,682.1 544.6,675.6 557.4,656.4 570.2,667.2 583.1,679.3 595.9,653.5 608.7,630.0 621.5,608.1 634.3,611.3 647.1,627.7 659.9,612.4 672.7,594.7 685.5,607.2 698.3,620.9 711.2,625.4 724.0,616.9 736.8,606.6 749.6,615.5 762.4,638.3 775.2,635.9 788.0,638.7 800.8,621.9 813.6,629.3 826.4,635.0 839.3,617.4 852.1,616.0 864.9,621.4 877.7,621.6 890.5,617.2 903.3,609.2 916.1,616.9 928.9,619.8 941.7,609.4 954.5,598.6 967.4,601.2 980.2,595.6 993.0,601.6 1005.8,575.1 1018.6,559.3 1031.4,559.9 1044.2,555.3 1057.0,559.4 1069.8,530.8 1082.6,521.5 1095.5,527.7 1108.3,519.0 1121.1,526.5 1133.9,518.8 1146.7,517.0 1159.5,511.9 1172.3,501.9 1185.1,506.6 1197.9,515.4 1210.7,511.3 1223.6,501.1 1236.4,481.2 1249.2,474.5 1262.0,477.2 1274.8,468.2 1287.6,458.4 1300.4,448.4 1313.2,440.0 1326.0,426.1 1338.8,413.1 1351.7,400.0 1364.5,398.5 1377.3,397.7 1390.1,391.5 1402.9,386.2 1415.7,372.1 1428.5,366.0 1441.3,362.9 1454.1,361.1 1466.9,354.1 1479.8,349.9 1492.6,344.7 1505.4,316.7 1518.2,304.8 1531.0,310.5 1543.8,310.0 1556.6,312.6 1569.4,301.0 1582.2,300.1 1595.0,307.3 1607.9,301.7 1620.7,303.9 1633.5,296.6 1646.3,305.7 1659.1,310.1 1671.9,313.7 1684.7,308.9 1697.5,318.1 1710.3,324.0 1723.1,327.0 1736.0,340.0 1748.8,346.6 1761.6,351.1 1774.4,352.7 1787.2,349.4 1800.0,340.4"/>
<polyline points="262.8,788.4 275.6,772.8 288.4,770.0 301.2,745.1 314.0,754.8 326.9,761.5 339.7,736.5 352.5,720.6 365.3,688.8 378.1,681.8 390.9,685.1 403.7,667.6 416.5,672.6 429.3,658.2 442.1,667.6 455.0,677.2 467.8,678.1 480.6,695.4 493.4,682.3 506.2,694.4 519.0,693.6 531.8,674.8 544.6,669.2 557.4,649.2 570.2,661.0 583.1,673.2 595.9,648.5 608.7,624.4 621.5,601.5 634.3,605.7 647.1,620.3 659.9,608.1 672.7,590.7 685.5,602.0 698.3,615.3 711.2,620.5 724.0,611.2 736.8,599.9 749.6,605.1 762.4,627.2 775.2,624.6 788.0,623.9 800.8,609.5 813.6,612.8 826.4,621.3 839.3,602.2 852.1,603.2 864.9,607.6 877.7,601.9 890.5,600.7 903.3,592.2 916.1,596.0 928.9,604.0 941.7,594.7 954.5,584.4 967.4,585.6 980.2,580.7 993.0,582.9 1005.8,558.3 1018.6,535.7 1031.4,531.1 1044.2,521.4 1057.0,526.6 1069.8,502.5 1082.6,486.0 1095.5,489.5 1108.3,481.2 1121.1,488.7 1133.9,482.9 1146.7,483.9 1159.5,490.1 1172.3,480.1 1185.1,481.5 1197.9,488.3 1210.7,482.6 1223.6,475.8 1236.4,454.2 1249.2,447.6 1262.0,440.6 1274.8,433.0 1287.6,420.3 1300.4,413.1 1313.2,404.8 1326.0,394.9 1338.8,385.0 1351.7,371.8 1364.5,367.1 1377.3,362.1 1390.1,348.0 1402.9,336.1 1415.7,322.3 1428.5,316.4 1441.3,306.6 1454.1,299.5 1466.9,289.7 1479.8,285.0 1492.6,276.2 1505.4,257.6 1518.2,239.4 1531.0,245.1 1543.8,251.3 1556.6,255.6 1569.4,241.8 1582.2,242.2 1595.0,248.0 1607.9,249.8 1620.7,252.8 1633.5,251.0 1646.3,263.6 1659.1,275.7 1671.9,275.7 1684.7,274.1 1697.5,275.7 1710.3,281.3 1723.1,287.6 1736.0,285.6 1748.8,290.3 1761.6,289.6 1774.4,288.2 1787.2,289.1 1800.0,289.3"/>
<polyline points="262.8,788.4 275.6,772.1 288.4,769.0 301.2,742.1 314.0,752.3 326.9,759.4 339.7,734.6 352.5,718.2 365.3,686.1 378.1,679.9 390.9,683.2 403.7,665.7 416.5,671.0 429.3,655.8 442.1,666.4 455.0,675.0 467.8,676.4 480.6,694.2 493.4,681.4 506.2,693.0 519.0,690.9 531.8,671.5 544.6,664.8 557.4,644.6 570.2,654.4 583.1,667.4 595.9,642.8 608.7,617.8 621.5,596.2 634.3,599.7 647.1,614.3 659.9,600.9 672.7,582.6 685.5,595.1 698.3,609.4 711.2,614.1 724.0,606.9 736.8,597.2 749.6,603.7 762.4,625.2 775.2,622.6 788.0,622.7 800.8,608.3 813.6,611.1 826.4,619.1 839.3,600.3 852.1,601.7 864.9,606.0 877.7,602.5 890.5,600.5 903.3,590.8 916.1,593.8 928.9,600.2 941.7,591.8 954.5,583.6 967.4,586.1 980.2,581.8 993.0,583.7 1005.8,558.7 1018.6,537.3 1031.4,533.6 1044.2,524.2 1057.0,529.7 1069.8,504.4 1082.6,488.9 1095.5,492.7 1108.3,484.1 1121.1,491.9 1133.9,487.7 1146.7,488.5 1159.5,495.4 1172.3,487.7 1185.1,492.5 1197.9,501.2 1210.7,498.4 1223.6,491.7 1236.4,472.3 1249.2,466.9 1262.0,459.2 1274.8,449.0 1287.6,433.5 1300.4,424.7 1313.2,413.1 1326.0,404.1 1338.8,390.2 1351.7,376.6 1364.5,374.1 1377.3,369.0 1390.1,355.8 1402.9,348.0 1415.7,330.8 1428.5,326.1 1441.3,316.1 1454.1,307.1 1466.9,297.4 1479.8,292.0 1492.6,283.1 1505.4,263.5 1518.2,247.4 1531.0,253.1 1543.8,259.4 1556.6,262.8 1569.4,245.5 1582.2,246.4 1595.0,253.4 1607.9,252.5 1620.7,254.8 1633.5,254.0 1646.3,264.4 1659.1,278.1 1671.9,276.9 1684.7,275.8 1697.5,276.3 1710.3,281.9 1723.1,287.7 1736.0,285.5 1748.8,290.3 1761.6,289.8 1774.4,289.1 1787.2,288.9 1800.0,288.6"/>
<polyline points="262.8,788.4 275.6,772.8 288.4,770.1 301.2,745.7 314.0,755.6 326.9,762.1 339.7,736.8 352.5,720.5 365.3,688.5 378.1,681.8 390.9,685.3 403.7,667.4 416.5,673.1 429.3,659.4 442.1,669.2 455.0,680.5 467.8,680.3 480.6,698.3 493.4,686.1 506.2,698.6 519.0,698.5 531.8,679.0 544.6,672.2 557.4,652.0 570.2,662.1 583.1,674.4 595.9,649.8 608.7,624.4 621.5,602.7 634.3,605.3 647.1,620.1 659.9,607.1 672.7,589.3 685.5,601.4 698.3,616.9 711.2,622.2 724.0,613.3 736.8,602.8 749.6,611.2 762.4,632.4 775.2,630.3 788.0,632.0 800.8,616.3 813.6,621.0 826.4,629.0 839.3,611.3 852.1,611.9 864.9,616.3 877.7,613.4 890.5,611.1 903.3,601.0 916.1,605.1 928.9,608.8 941.7,600.3 954.5,589.9 967.4,592.5 980.2,588.1 993.0,590.3 1005.8,564.1 1018.6,541.8 1031.4,537.7 1044.2,525.8 1057.0,531.3 1069.8,507.3 1082.6,491.7 1095.5,495.1 1108.3,489.4 1121.1,496.1 1133.9,488.4 1146.7,488.9 1159.5,493.1 1172.3,481.9 1185.1,482.9 1197.9,491.0 1210.7,484.1 1223.6,477.1 1236.4,456.3 1249.2,452.9 1262.0,446.9 1274.8,445.5 1287.6,433.3 1300.4,427.8 1313.2,420.9 1326.0,412.6 1338.8,400.9 1351.7,386.3 1364.5,377.5 1377.3,374.0 1390.1,357.2 1402.9,343.6 1415.7,328.0 1428.5,320.0 1441.3,311.1 1454.1,305.1 1466.9,295.0 1479.8,290.1 1492.6,280.0 1505.4,258.5 1518.2,240.6 1531.0,244.6 1543.8,249.9 1556.6,253.8 1569.4,240.7 1582.2,241.6 1595.0,247.8 1607.9,249.7 1620.7,252.5 1633.5,251.2 1646.3,264.3 1659.1,277.7 1671.9,279.4 1684.7,280.7 1697.5,279.7 1710.3,285.7 1723.1,291.6 1736.0,290.1 1748.8,293.3 1761.6,292.6 1774.4,291.0 1787.2,290.0 1800.0,290.1"/>
<polyline points="262.8,788.4 275.6,772.8 288.4,770.2 301.2,745.8 314.0,755.6 326.9,762.8 339.7,737.4 352.5,721.6 365.3,691.7 378.1,684.2 390.9,688.3 403.7,669.2 416.5,674.8 429.3,660.3 442.1,670.4 455.0,678.8 467.8,679.5 480.6,696.8 493.4,683.7 506.2,697.2 519.0,695.2 531.8,676.6 544.6,669.7 557.4,650.9 570.2,662.3 583.1,674.1 595.9,649.8 608.7,626.1 621.5,602.5 634.3,606.7 647.1,621.3 659.9,608.6 672.7,590.1 685.5,602.8 698.3,617.3 711.2,622.9 724.0,614.3 736.8,604.4 749.6,613.7 762.4,634.1 775.2,630.7 788.0,631.0 800.8,614.5 813.6,617.5 826.4,624.3 839.3,606.2 852.1,605.9 864.9,612.1 877.7,608.4 890.5,606.5 903.3,598.4 916.1,603.6 928.9,608.7 941.7,598.6 954.5,588.1 967.4,588.7 980.2,583.7 993.0,585.4 1005.8,559.8 1018.6,538.3 1031.4,533.8 1044.2,526.7 1057.0,529.4 1069.8,505.6 1082.6,489.1 1095.5,493.9 1108.3,487.6 1121.1,497.2 1133.9,490.1 1146.7,492.1 1159.5,497.8 1172.3,490.9 1185.1,495.0 1197.9,506.8 1210.7,500.6 1223.6,492.3 1236.4,471.5 1249.2,465.1 1262.0,468.6 1274.8,458.7 1287.6,441.8 1300.4,435.2 1313.2,430.2 1326.0,419.3 1338.8,401.8 1351.7,392.9 1364.5,386.2 1377.3,382.8 1390.1,363.0 1402.9,354.2 1415.7,337.2 1428.5,335.0 1441.3,324.8 1454.1,320.5 1466.9,308.1 1479.8,305.2 1492.6,291.6 1505.4,266.7 1518.2,247.3 1531.0,250.3 1543.8,254.7 1556.6,258.8 1569.4,243.7 1582.2,242.8 1595.0,248.1 1607.9,249.8 1620.7,252.3 1633.5,250.5 1646.3,263.2 1659.1,276.4 1671.9,276.4 1684.7,275.7 1697.5,276.7 1710.3,282.7 1723.1,288.5 1736.0,287.3 1748.8,291.9 1761.6,291.4 1774.4,290.4 1787.2,291.5 1800.0,294.0"/>
<polyline points="262.8,788.4 275.6,774.5 288.4,774.7 301.2,751.3 314.0,760.4 326.9,768.6 339.7,740.2 352.5,727.7 365.3,697.8 378.1,688.6 390.9,693.8 403.7,672.6 416.5,681.1 429.3,665.1 442.1,675.6 455.0,685.9 467.8,684.3 480.6,703.1 493.4,691.4 506.2,706.3 519.0,703.9 531.8,683.6 544.6,676.7 557.4,658.6 570.2,668.2 583.1,679.2 595.9,653.2 608.7,629.7 621.5,609.1 634.3,613.0 647.1,628.9 659.9,614.8 672.7,595.4 685.5,609.1 698.3,622.8 711.2,627.9 724.0,618.5 736.8,608.8 749.6,618.5 762.4,640.2 775.2,635.8 788.0,639.1 800.8,621.0 813.6,626.5 826.4,631.6 839.3,613.3 852.1,613.0 864.9,618.8 877.7,616.6 890.5,614.4 903.3,606.2 916.1,611.7 928.9,616.9 941.7,607.7 954.5,595.3 967.4,597.1 980.2,592.0 993.0,597.5 1005.8,571.4 1018.6,550.5 1031.4,548.6 1044.2,540.4 1057.0,543.2 1069.8,517.0 1082.6,505.1 1095.5,510.5 1108.3,503.4 1121.1,512.6 1133.9,501.1 1146.7,500.9 1159.5,502.5 1172.3,493.2 1185.1,493.4 1197.9,499.8 1210.7,493.9 1223.6,485.4 1236.4,464.4 1249.2,457.5 1262.0,456.0 1274.8,451.1 1287.6,441.6 1300.4,440.2 1313.2,444.4 1326.0,446.6 1338.8,437.4 1351.7,435.0 1364.5,427.5 1377.3,426.9 1390.1,412.2 1402.9,396.4 1415.7,388.4 1428.5,379.9 1441.3,366.1 1454.1,356.5 1466.9,337.0 1479.8,327.0 1492.6,314.4 1505.4,288.7 1518.2,269.0 1531.0,273.5 1543.8,279.1 1556.6,282.1 1569.4,272.1 1582.2,272.0 1595.0,280.1 1607.9,283.8 1620.7,292.4 1633.5,293.9 1646.3,302.0 1659.1,322.3 1671.9,315.3 1684.7,309.9 1697.5,313.3 1710.3,322.6 1723.1,323.9 1736.0,322.5 1748.8,327.4 1761.6,325.3 1774.4,319.6 1787.2,322.3 1800.0,313.1"/>
<polyline points="262.8,788.4 275.6,771.8 288.4,768.7 301.2,741.8 314.0,752.0 326.9,759.4 339.7,735.7 352.5,718.5 365.3,687.2 378.1,681.0 390.9,684.5 403.7,666.7 416.5,672.9 429.3,658.3 442.1,667.6 455.0,677.2 467.8,678.2 480.6,695.2 493.4,682.4 506.2,694.2 519.0,693.3 531.8,674.2 544.6,668.0 557.4,647.5 570.2,658.8 583.1,671.0 595.9,646.7 608.7,622.3 621.5,599.0 634.3,602.5 647.1,617.1 659.9,604.4 672.7,587.1 685.5,599.7 698.3,613.9 711.2,618.6 724.0,610.0 736.8,598.9 749.6,604.9 762.4,626.9 775.2,624.4 788.0,623.7 800.8,609.5 813.6,612.8 826.4,621.6 839.3,603.4 852.1,605.6 864.9,611.9 877.7,608.6 890.5,607.1 903.3,597.2 916.1,601.4 928.9,606.5 941.7,597.2 954.5,587.1 967.4,587.9 980.2,582.9 993.0,584.0 1005.8,558.7 1018.6,536.6 1031.4,531.9 1044.2,522.4 1057.0,525.9 1069.8,501.9 1082.6,485.7 1095.5,489.8 1108.3,481.3 1121.1,488.5 1133.9,482.1 1146.7,481.6 1159.5,487.2 1172.3,474.5 1185.1,473.7 1197.9,478.9 1210.7,473.2 1223.6,463.8 1236.4,439.0 1249.2,435.9 1262.0,431.7 1274.8,427.8 1287.6,417.6 1300.4,410.1 1313.2,404.8 1326.0,397.1 1338.8,386.1 1351.7,372.4 1364.5,367.7 1377.3,363.0 1390.1,350.6 1402.9,340.6 1415.7,329.0 1428.5,321.0 1441.3,313.8 1454.1,306.1 1466.9,295.3 1479.8,289.9 1492.6,280.6 1505.4,258.0 1518.2,240.6 1531.0,244.6 1543.8,250.9 1556.6,253.3 1569.4,240.3 1582.2,239.0 1595.0,245.5 1607.9,247.1 1620.7,249.7 1633.5,248.8 1646.3,261.4 1659.1,274.4 1671.9,273.4 1684.7,272.9 1697.5,272.5 1710.3,279.7 1723.1,284.1 1736.0,283.0 1748.8,287.7 1761.6,287.7 1774.4,286.9 1787.2,285.9 1800.0,286.9"/>
<polyline points="262.8,788.4 275.6,773.8 288.4,773.4 301.2,750.2 314.0,760.3 326.9,769.5 339.7,740.9 352.5,729.8 365.3,701.5 378.1,691.3 390.9,698.3 403.7,675.3 416.5,684.9 429.3,668.2 442.1,675.9 455.0,686.1 467.8,683.6 480.6,701.4 493.4,688.5 506.2,703.9 519.0,701.1 531.8,681.4 544.6,674.8 557.4,655.7 570.2,666.7 583.1,679.8 595.9,654.2 608.7,631.9 621.5,609.9 634.3,613.4 647.1,628.8 659.9,615.1 672.7,595.6 685.5,607.2 698.3,622.6 711.2,627.2 724.0,616.3 736.8,607.6 749.6,615.2 762.4,637.0 775.2,633.3 788.0,636.6 800.8,618.3 813.6,623.8 826.4,629.6 839.3,612.4 852.1,612.7 864.9,619.7 877.7,619.1 890.5,617.9 903.3,610.6 916.1,617.0 928.9,621.3 941.7,613.1 954.5,604.7 967.4,612.5 980.2,605.9 993.0,619.1 1005.8,585.9 1018.6,570.4 1031.4,570.4 1044.2,558.6 1057.0,558.3 1069.8,530.6 1082.6,522.2 1095.5,524.9 1108.3,522.4 1121.1,531.1 1133.9,514.3 1146.7,512.1 1159.5,512.6 1172.3,503.1 1185.1,513.2 1197.9,518.2 1210.7,509.2 1223.6,492.2 1236.4,468.2 1249.2,460.2 1262.0,457.4 1274.8,445.7 1287.6,432.3 1300.4,425.6 1313.2,415.9 1326.0,409.9 1338.8,398.8 1351.7,389.0 1364.5,388.7 1377.3,390.2 1390.1,378.2 1402.9,367.7 1415.7,356.8 1428.5,349.2 1441.3,340.6 1454.1,338.6 1466.9,334.5 1479.8,331.4 1492.6,321.5 1505.4,299.5 1518.2,281.3 1531.0,286.4 1543.8,291.6 1556.6,296.0 1569.4,282.6 1582.2,281.5 1595.0,285.2 1607.9,288.0 1620.7,292.8 1633.5,285.1 1646.3,291.6 1659.1,300.9 1671.9,297.8 1684.7,291.8 1697.5,295.9 1710.3,304.8 1723.1,310.1 1736.0,310.0 1748.8,315.7 1761.6,311.6 1774.4,306.5 1787.2,303.2 1800.0,297.8"/>
<polyline points="262.8,788.4 275.6,773.5 288.4,772.2 301.2,748.4 314.0,757.8 326.9,765.3 339.7,738.4 352.5,724.3 365.3,694.9 378.1,686.1 390.9,690.9 403.7,671.7 416.5,679.0 429.3,664.0 442.1,673.6 455.0,684.4 467.8,683.3 480.6,701.1 493.4,689.6 506.2,703.1 519.0,701.0 531.8,680.8 544.6,675.4 557.4,656.2 570.2,667.4 583.1,679.7 595.9,653.8 608.7,629.5 621.5,608.5 634.3,610.4 647.1,624.4 659.9,609.1 672.7,590.3 685.5,602.5 698.3,615.9 711.2,621.1 724.0,612.0 736.8,601.8 749.6,608.9 762.4,631.9 775.2,628.5 788.0,631.0 800.8,614.6 813.6,619.4 826.4,626.8 839.3,609.4 852.1,609.7 864.9,615.2 877.7,612.9 890.5,611.8 903.3,603.2 916.1,610.1 928.9,616.4 941.7,605.5 954.5,594.7 967.4,597.6 980.2,591.7 993.0,597.8 1005.8,570.8 1018.6,551.2 1031.4,547.6 1044.2,539.2 1057.0,543.8 1069.8,517.9 1082.6,501.7 1095.5,506.4 1108.3,502.4 1121.1,507.7 1133.9,497.4 1146.7,496.2 1159.5,499.6 1172.3,487.9 1185.1,489.3 1197.9,494.8 1210.7,487.7 1223.6,479.5 1236.4,456.6 1249.2,450.0 1262.0,443.0 1274.8,436.9 1287.6,424.7 1300.4,421.2 1313.2,415.7 1326.0,408.0 1338.8,396.4 1351.7,379.9 1364.5,372.6 1377.3,366.8 1390.1,351.7 1402.9,343.3 1415.7,330.8 1428.5,327.6 1441.3,318.9 1454.1,313.6 1466.9,304.9 1479.8,300.8 1492.6,293.0 1505.4,275.0 1518.2,255.7 1531.0,262.4 1543.8,269.4 1556.6,275.5 1569.4,266.1 1582.2,276.1 1595.0,288.0 1607.9,295.4 1620.7,313.4 1633.5,304.6 1646.3,318.9 1659.1,328.0 1671.9,327.3 1684.7,319.5 1697.5,326.1 1710.3,342.0 1723.1,342.8 1736.0,347.6 1748.8,342.4 1761.6,346.4 1774.4,331.8 1787.2,332.6 1800.0,337.2"/>
<polyline points="262.8,788.4 275.6,772.9 288.4,770.6 301.2,745.8 314.0,755.3 326.9,760.6 339.7,736.1 352.5,718.9 365.3,688.0 378.1,682.4 390.9,687.0 403.7,668.5 416.5,674.2 429.3,659.4 442.1,668.2 455.0,676.9 467.8,677.5 480.6,695.1 493.4,682.0 506.2,693.6 519.0,692.4 531.8,673.8 544.6,668.2 557.4,647.6 570.2,659.2 583.1,672.3 595.9,648.4 608.7,624.1 621.5,601.9 634.3,605.6 647.1,620.3 659.9,606.9 672.7,588.1 685.5,600.6 698.3,614.7 711.2,620.6 724.0,612.2 736.8,602.2 749.6,608.8 762.4,630.1 775.2,627.7 788.0,627.5 800.8,612.2 813.6,616.3 826.4,624.9 839.3,607.2 852.1,608.5 864.9,614.2 877.7,611.0 890.5,609.6 903.3,601.2 916.1,605.2 928.9,610.3 941.7,600.2 954.5,588.1 967.4,588.1 980.2,582.9 993.0,584.3 1005.8,558.7 1018.6,536.8 1031.4,533.4 1044.2,524.5 1057.0,528.9 1069.8,505.0 1082.6,489.2 1095.5,491.1 1108.3,482.3 1121.1,489.0 1133.9,483.2 1146.7,483.9 1159.5,490.1 1172.3,480.4 1185.1,481.7 1197.9,488.9 1210.7,482.9 1223.6,475.8 1236.4,454.1 1249.2,447.5 1262.0,439.3 1274.8,430.6 1287.6,417.7 1300.4,408.1 1313.2,396.7 1326.0,385.1 1338.8,379.6 1351.7,364.0 1364.5,362.2 1377.3,360.1 1390.1,347.3 1402.9,336.8 1415.7,324.7 1428.5,318.6 1441.3,310.7 1454.1,304.5 1466.9,294.8 1479.8,289.8 1492.6,280.1 1505.4,258.9 1518.2,240.3 1531.0,244.7 1543.8,251.0 1556.6,255.8 1569.4,241.9 1582.2,242.4 1595.0,249.1 1607.9,250.0 1620.7,253.8 1633.5,252.5 1646.3,266.4 1659.1,280.3 1671.9,279.8 1684.7,277.1 1697.5,279.9 1710.3,285.8 1723.1,291.6 1736.0,289.8 1748.8,296.0 1761.6,297.9 1774.4,293.6 1787.2,296.6 1800.0,298.8"/>
<polyline points="262.8,788.4 275.6,771.7 288.4,768.5 301.2,739.3 314.0,750.5 326.9,758.5 339.7,734.2 352.5,718.2 365.3,686.1 378.1,680.1 390.9,683.2 403.7,664.8 416.5,671.6 429.3,656.2 442.1,666.2 455.0,675.1 467.8,676.7 480.6,694.2 493.4,681.0 506.2,692.4 519.0,690.5 531.8,671.5 544.6,666.1 557.4,645.1 570.2,655.1 583.1,666.2 595.9,640.2 608.7,617.2 621.5,596.2 634.3,598.9 647.1,614.5 659.9,602.5 672.7,585.0 685.5,596.5 698.3,611.1 711.2,617.0 724.0,608.5 736.8,597.4 749.6,604.1 762.4,625.4 775.2,623.5 788.0,622.8 800.8,608.8 813.6,612.1 826.4,620.0 839.3,601.3 852.1,603.0 864.9,608.7 877.7,603.9 890.5,600.0 903.3,590.7 916.1,592.9 928.9,595.3 941.7,585.0 954.5,576.8 967.4,576.2 980.2,571.2 993.0,575.6 1005.8,548.2 1018.6,527.1 1031.4,520.7 1044.2,511.1 1057.0,514.2 1069.8,492.4 1082.6,474.5 1095.5,476.3 1108.3,467.3 1121.1,473.1 1133.9,469.9 1146.7,473.1 1159.5,482.9 1172.3,472.9 1185.1,470.8 1197.9,480.5 1210.7,475.0 1223.6,465.3 1236.4,444.2 1249.2,434.7 1262.0,429.3 1274.8,424.3 1287.6,410.6 1300.4,400.9 1313.2,389.0 1326.0,376.1 1338.8,360.0 1351.7,344.9 1364.5,334.8 1377.3,331.7 1390.1,317.1 1402.9,301.6 1415.7,290.8 1428.5,283.8 1441.3,282.2 1454.1,283.2 1466.9,277.0 1479.8,278.6 1492.6,272.2 1505.4,251.3 1518.2,233.4 1531.0,241.4 1543.8,250.2 1556.6,254.1 1569.4,241.2 1582.2,241.7 1595.0,247.5 1607.9,248.5 1620.7,251.8 1633.5,250.1 1646.3,263.4 1659.1,276.0 1671.9,275.7 1684.7,273.5 1697.5,274.1 1710.3,280.1 1723.1,285.1 1736.0,283.0 1748.8,289.1 1761.6,288.3 1774.4,288.2 1787.2,287.9 1800.0,287.9"/>
<polyline points="262.8,788.4 275.6,773.3 288.4,771.7 301.2,747.1 314.0,756.8 326.9,764.6 339.7,738.2 352.5,723.3 365.3,694.5 378.1,687.3 390.9,692.3 403.7,672.3 416.5,680.4 429.3,665.8 442.1,675.1 455.0,685.4 467.8,683.9 480.6,701.4 493.4,689.1 506.2,702.0 519.0,699.8 531.8,679.7 544.6,672.4 557.4,653.5 570.2,664.2 583.1,676.6 595.9,651.6 608.7,628.6 621.5,607.4 634.3,611.3 647.1,626.9 659.9,612.7 672.7,592.7 685.5,604.2 698.3,616.4 711.2,621.8 724.0,612.3 736.8,601.0 749.6,607.4 762.4,628.3 775.2,625.9 788.0,625.0 800.8,609.9 813.6,614.5 826.4,623.5 839.3,605.9 852.1,607.9 864.9,614.1 877.7,611.4 890.5,610.1 903.3,602.8 916.1,610.7 928.9,617.8 941.7,609.5 954.5,600.5 967.4,605.7 980.2,597.6 993.0,604.9 1005.8,573.4 1018.6,551.2 1031.4,549.3 1044.2,538.1 1057.0,542.0 1069.8,513.7 1082.6,501.8 1095.5,507.8 1108.3,500.4 1121.1,508.3 1133.9,500.3 1146.7,500.4 1159.5,500.8 1172.3,489.3 1185.1,494.5 1197.9,500.1 1210.7,496.8 1223.6,491.9 1236.4,473.2 1249.2,471.0 1262.0,464.6 1274.8,451.3 1287.6,437.7 1300.4,424.1 1313.2,416.6 1326.0,406.3 1338.8,393.7 1351.7,382.7 1364.5,374.7 1377.3,371.1 1390.1,356.5 1402.9,347.1 1415.7,332.5 1428.5,324.3 1441.3,313.7 1454.1,310.7 1466.9,301.7 1479.8,297.6 1492.6,289.9 1505.4,267.5 1518.2,249.1 1531.0,249.7 1543.8,254.1 1556.6,256.9 1569.4,243.3 1582.2,244.5 1595.0,249.1 1607.9,250.4 1620.7,253.0 1633.5,251.4 1646.3,264.3 1659.1,276.9 1671.9,276.6 1684.7,276.4 1697.5,276.9 1710.3,283.2 1723.1,288.4 1736.0,286.3 1748.8,291.1 1761.6,291.0 1774.4,290.8 1787.2,291.6 1800.0,294.9"/>
<polyline points="262.8,788.4 275.6,772.4 288.4,769.2 301.2,742.7 314.0,752.7 326.9,759.5 339.7,734.8 352.5,718.3 365.3,685.9 378.1,680.1 390.9,683.6 403.7,665.4 416.5,670.9 429.3,654.7 442.1,664.5 455.0,672.9 467.8,674.8 480.6,693.6 493.4,681.2 506.2,693.3 519.0,692.3 531.8,674.0 544.6,668.2 557.4,647.6 570.2,658.8 583.1,671.2 595.9,646.7 608.7,621.9 621.5,598.6 634.3,602.5 647.1,616.6 659.9,604.0 672.7,585.9 685.5,597.6 698.3,611.6 711.2,617.8 724.0,609.1 736.8,598.5 749.6,604.7 762.4,627.1 775.2,624.3 788.0,623.6 800.8,609.4 813.6,612.7 826.4,621.5 839.3,603.4 852.1,604.7 864.9,610.6 877.7,607.2 890.5,604.7 903.3,596.9 916.1,601.3 928.9,607.0 941.7,597.7 954.5,587.2 967.4,588.4 980.2,583.9 993.0,588.3 1005.8,561.6 1018.6,541.0 1031.4,536.4 1044.2,529.6 1057.0,531.4 1069.8,507.1 1082.6,490.4 1095.5,493.1 1108.3,484.6 1121.1,490.5 1133.9,483.1 1146.7,483.8 1159.5,489.9 1172.3,479.5 1185.1,481.1 1197.9,487.2 1210.7,482.0 1223.6,473.8 1236.4,449.4 1249.2,441.8 1262.0,434.6 1274.8,426.7 1287.6,415.3 1300.4,405.6 1313.2,396.2 1326.0,375.8 1338.8,348.6 1351.7,322.3 1364.5,309.5 1377.3,308.9 1390.1,305.5 1402.9,299.6 1415.7,299.3 1428.5,294.7 1441.3,288.0 1454.1,289.8 1466.9,282.4 1479.8,277.5 1492.6,271.3 1505.4,251.2 1518.2,237.4 1531.0,244.4 1543.8,250.3 1556.6,254.8 1569.4,240.4 1582.2,240.9 1595.0,246.4 1607.9,247.0 1620.7,250.3 1633.5,248.2 1646.3,261.9 1659.1,275.3 1671.9,275.7 1684.7,275.4 1697.5,276.3 1710.3,282.2 1723.1,290.0 1736.0,292.3 1748.8,299.5 1761.6,300.1 1774.4,295.7 1787.2,298.0 1800.0,298.5"/>
</g>
<polyline stroke="#808080" stroke-width="2.78" points="262.8,788.4 275.6,775.5 288.4,777.0 301.2,754.3 314.0,763.0 326.9,772.5 339.7,742.1 352.5,731.5 365.3,703.5 378.1,692.9 390.9,699.7 403.7,677.0 416.5,688.3 429.3,671.7 442.1,682.3 455.0,693.6 467.8,689.8 480.6,709.2 493.4,698.9 506.2,714.4 519.0,710.8 531.8,690.3 544.6,682.5 557.4,665.4 570.2,676.2 583.1,686.4 595.9,660.3 608.7,637.8 621.5,617.5 634.3,620.9 647.1,637.6 659.9,622.4 672.7,601.9 685.5,615.2 698.3,628.5 711.2,631.5 724.0,621.6 736.8,612.1 749.6,623.2 762.4,644.4 775.2,641.3 788.0,646.3 800.8,628.1 813.6,636.2 826.4,641.3 839.3,625.0 852.1,623.6 864.9,630.1 877.7,630.4 890.5,628.5 903.3,619.4 916.1,627.7 928.9,630.9 941.7,620.9 954.5,610.3 967.4,617.8 980.2,611.0 993.0,626.2 1005.8,591.5 1018.6,573.1 1031.4,572.4 1044.2,562.5 1057.0,563.3 1069.8,532.2 1082.6,523.9 1095.5,529.9 1108.3,525.6 1121.1,533.7 1133.9,522.4 1146.7,521.7 1159.5,519.3 1172.3,510.2 1185.1,517.8 1197.9,530.7 1210.7,525.4 1223.6,517.0 1236.4,498.1 1249.2,494.3 1262.0,497.3 1274.8,493.6 1287.6,474.6 1300.4,469.3 1313.2,468.8 1326.0,466.3 1338.8,450.4 1351.7,438.2 1364.5,436.7 1377.3,435.2 1390.1,416.2 1402.9,398.8 1415.7,393.3 1428.5,389.0 1441.3,379.1 1454.1,371.5 1466.9,359.4 1479.8,354.5 1492.6,348.8 1505.4,324.1 1518.2,309.4 1531.0,315.4 1543.8,317.0 1556.6,318.1 1569.4,304.5 1582.2,308.1 1595.0,317.1 1607.9,319.5 1620.7,328.5 1633.5,329.1 1646.3,339.1 1659.1,357.1 1671.9,358.6 1684.7,355.0 1697.5,364.0 1710.3,373.2 1723.1,379.1 1736.0,379.1 1748.8,383.2 1761.6,390.5 1774.4,385.2 1787.2,392.2 1800.0,393.5"/>
<polyline stroke="#808080" stroke-width="2.78" points="262.8,788.4 275.6,770.2 288.4,767.1 301.2,729.6 314.0,741.0 326.9,752.0 339.7,726.2 352.5,715.6 365.3,677.0 378.1,668.6 390.9,669.6 403.7,649.7 416.5,658.4 429.3,641.3 442.1,650.4 455.0,659.9 467.8,664.1 480.6,685.3 493.4,673.2 506.2,682.3 519.0,675.8 531.8,658.0 544.6,653.7 557.4,633.8 570.2,641.3 583.1,651.4 595.9,626.6 608.7,601.2 621.5,585.6 634.3,586.0 647.1,599.7 659.9,589.8 672.7,571.6 685.5,584.9 698.3,601.2 711.2,603.4 724.0,593.6 736.8,586.4 749.6,592.8 762.4,610.5 775.2,605.0 788.0,606.9 800.8,595.9 813.6,595.9 826.4,600.0 839.3,574.6 852.1,579.6 864.9,578.4 877.7,573.9 890.5,570.9 903.3,560.2 916.1,564.0 928.9,570.1 941.7,555.7 954.5,549.3 967.4,545.8 980.2,542.4 993.0,553.4 1005.8,525.4 1018.6,504.2 1031.4,496.2 1044.2,484.8 1057.0,487.5 1069.8,470.1 1082.6,451.9 1095.5,457.2 1108.3,444.3 1121.1,448.3 1133.9,446.3 1146.7,449.6 1159.5,461.7 1172.3,444.3 1185.1,438.2 1197.9,431.0 1210.7,439.4 1223.6,418.1 1236.4,382.1 1249.2,373.0 1262.0,372.3 1274.8,366.2 1287.6,351.8 1300.4,336.7 1313.2,328.0 1326.0,315.7 1338.8,301.8 1351.7,291.2 1364.5,284.4 1377.3,286.9 1390.1,269.2 1402.9,254.8 1415.7,236.2 1428.5,226.8 1441.3,210.1 1454.1,201.8 1466.9,196.5 1479.8,196.5 1492.6,185.1 1505.4,155.5 1518.2,141.1 1531.0,148.7 1543.8,157.4 1556.6,148.7 1569.4,133.9 1582.2,141.9 1595.0,146.8 1607.9,151.7 1620.7,148.7 1633.5,154.0 1646.3,167.7 1659.1,184.3 1671.9,179.4 1684.7,171.4 1697.5,170.7 1710.3,183.9 1723.1,192.7 1736.0,195.7 1748.8,199.0 1761.6,201.0 1774.4,201.8 1787.2,204.0 1800.0,212.4"/>
<polyline stroke="#cc66cc" stroke-width="2.78" points="262.8,788.4 275.6,772.5 288.4,769.4 301.2,744.4 314.0,754.3 326.9,760.3 339.7,736.1 352.5,718.6 365.3,687.6 378.1,681.5 390.9,685.3 403.7,667.9 416.5,673.5 429.3,659.2 442.1,668.6 455.0,677.7 467.8,678.5 480.6,695.5 493.4,682.5 506.2,694.6 519.0,693.6 531.8,674.7 544.6,668.6 557.4,647.8 570.2,659.2 583.1,671.7 595.9,647.0 608.7,622.4 621.5,599.1 634.3,602.7 647.1,617.1 659.9,604.2 672.7,586.4 685.5,598.1 698.3,612.1 711.2,618.2 724.0,609.7 736.8,598.9 749.6,605.0 762.4,627.2 775.2,624.7 788.0,623.9 800.8,609.5 813.6,612.8 826.4,621.6 839.3,603.4 852.1,605.0 864.9,610.6 877.7,606.8 890.5,604.4 903.3,595.9 916.1,599.7 928.9,606.0 941.7,597.0 954.5,586.8 967.4,587.9 980.2,582.7 993.0,584.0 1005.8,558.7 1018.6,536.8 1031.4,532.2 1044.2,523.1 1057.0,527.7 1069.8,503.4 1082.6,486.7 1095.5,490.1 1108.3,481.4 1121.1,489.0 1133.9,482.9 1146.7,483.9 1159.5,490.1 1172.3,479.9 1185.1,481.4 1197.9,488.6 1210.7,482.9 1223.6,476.3 1236.4,453.4 1249.2,447.3 1262.0,441.3 1274.8,433.9 1287.6,420.8 1300.4,414.0 1313.2,406.7 1326.0,400.0 1338.8,386.7 1351.7,368.5 1364.5,367.7 1377.3,365.8 1390.1,348.8 1402.9,337.8 1415.7,324.3 1428.5,319.2 1441.3,311.1 1454.1,305.1 1466.9,295.1 1479.8,290.4 1492.6,281.0 1505.4,259.1 1518.2,241.0 1531.0,245.7 1543.8,251.6 1556.6,256.0 1569.4,241.9 1582.2,242.2 1595.0,248.0 1607.9,249.8 1620.7,252.5 1633.5,251.0 1646.3,263.9 1659.1,276.8 1671.9,276.4 1684.7,275.7 1697.5,276.4 1710.3,282.1 1723.1,288.2 1736.0,286.2 1748.8,290.8 1761.6,290.4 1774.4,289.7 1787.2,289.7 1800.0,289.7"/>
<polyline stroke="#6666cc" stroke-width="2.78" points="262.8,788.8 275.6,774.4 288.4,770.2 301.2,744.4 314.0,755.8 326.9,763.0 339.7,735.7 352.5,716.4 365.3,685.3 378.1,676.2 390.9,672.4 403.7,645.9 416.5,656.0 429.3,656.5 442.1,662.6 455.0,669.4 467.8,663.3 480.6,695.2 493.4,704.6 506.2,710.3 519.0,697.4 531.8,670.1 544.6,681.5 557.4,670.1 570.2,654.5 583.1,644.4 595.9,629.6 608.7,631.2 621.5,614.4 634.3,594.4 647.1,595.1 659.9,592.8 672.7,597.4 685.5,599.7 698.3,601.9 711.2,611.3 724.0,618.6 736.8,615.6 749.6,605.9 762.4,620.9 775.2,629.7 788.0,625.0 800.8,607.4 813.6,605.0 826.4,620.5 839.3,607.4 852.1,593.6 864.9,589.3 877.7,590.8 890.5,602.9 903.3,597.9 916.1,585.0 928.9,600.6 941.7,598.9 954.5,603.1 967.4,595.9 980.2,578.9 993.0,589.8 1005.8,565.1 1018.6,548.9 1031.4,538.6 1044.2,512.5 1057.0,513.3 1069.8,482.2 1082.6,470.8 1095.5,495.8 1108.3,491.7 1121.1,502.3 1133.9,483.9 1146.7,488.2 1159.5,514.0 1172.3,505.4 1185.1,507.6 1197.9,501.9 1210.7,498.1 1223.6,497.3 1236.4,472.3 1249.2,459.4 1262.0,452.9 1274.8,445.8 1287.6,433.7 1300.4,413.2 1313.2,409.0 1326.0,405.6 1338.8,398.4 1351.7,385.5 1364.5,374.6 1377.3,371.5 1390.1,363.4 1402.9,351.1 1415.7,335.2 1428.5,328.3 1441.3,324.5 1454.1,308.1 1466.9,291.2 1479.8,279.8 1492.6,282.5 1505.4,268.1 1518.2,251.0 1531.0,246.5 1543.8,241.6 1556.6,250.3 1569.4,238.4 1582.2,235.9 1595.0,241.2 1607.9,235.4 1620.7,250.3 1633.5,241.9 1646.3,252.8 1659.1,263.5 1671.9,252.8 1684.7,251.3 1697.5,248.0 1710.3,262.4 1723.1,268.5 1736.0,267.8 1748.8,279.1 1761.6,292.7 1774.4,307.1 1787.2,303.3 1800.0,305.8"/>
<polyline stroke="#000" stroke-width="4.17" points="262.8,757.3 275.6,764.9 288.4,764.9 301.2,764.9 314.0,749.7 326.9,734.6 339.7,742.1 352.5,727.0 365.3,696.7 378.1,666.4 390.9,643.6 403.7,643.6 416.5,620.9 429.3,612.5"/>
</g>
<g stroke="#000" stroke-width="0.7" stroke-dasharray="1.3889 4.1667" fill="none">
<line x1="404.50" y1="810.5" x2="404.50" y2="90.5"/>
<line x1="557.50" y1="810.5" x2="557.50" y2="90.5"/>
<line x1="711.50" y1="810.5" x2="711.50" y2="90.5"/>
<line x1="865.50" y1="810.5" x2="865.50" y2="90.5"/>
<line x1="1019.50" y1="810.5" x2="1019.50" y2="90.5"/>
<line x1="1172.50" y1="810.5" x2="1172.50" y2="90.5"/>
<line x1="1326.50" y1="810.5" x2="1326.50" y2="90.5"/>
<line x1="1480.50" y1="810.5" x2="1480.50" y2="90.5"/>
<line x1="1633.50" y1="810.5" x2="1633.50" y2="90.5"/>
<line x1="1787.50" y1="810.5" x2="1787.50" y2="90.5"/>
<line x1="250.5" y1="772.50" x2="1800.5" y2="772.50"/>
<line x1="250.5" y1="734.50" x2="1800.5" y2="734.50"/>
<line x1="250.5" y1="696.50" x2="1800.5" y2="696.50"/>
<line x1="250.5" y1="658.50" x2="1800.5" y2="658.50"/>
<line x1="250.5" y1="621.50" x2="1800.5" y2="621.50"/>
<line x1="250.5" y1="583.50" x2="1800.5" y2="583.50"/>
<line x1="250.5" y1="545.50" x2="1800.5" y2="545.50"/>
<line x1="250.5" y1="507.50" x2="1800.5" y2="507.50"/>
<line x1="250.5" y1="469.50" x2="1800.5" y2="469.50"/>
<line x1="250.5" y1="431.50" x2="1800.5" y2="431.50"/>
<line x1="250.5" y1="393.50" x2="1800.5" y2="393.50"/>
<line x1="250.5" y1="355.50" x2="1800.5" y2="355.50"/>
<line x1="250.5" y1="317.50" x2="1800.5" y2="317.50"/>
<line x1="250.5" y1="279.50" x2="1800.5" y2="279.50"/>
<line x1="250.5" y1="242.50" x2="1800.5" y2="242.50"/>
<line x1="250.5" y1="204.50" x2="1800.5" y2="204.50"/>
<line x1="250.5" y1="166.50" x2="1800.5" y2="166.50"/>
<line x1="250.5" y1="128.50" x2="1800.5" y2="128.50"/>
</g>
<g stroke="#000" stroke-width="0.7">
<line x1="250.50" y1="810.5" x2="250.50" y2="804.1"/>
<line x1="250.50" y1="90.5" x2="250.50" y2="96.9"/>
<line x1="404.50" y1="810.5" x2="404.50" y2="804.1"/>
<line x1="404.50" y1="90.5" x2="404.50" y2="96.9"/>
<line x1="557.50" y1="810.5" x2="557.50" y2="804.1"/>
<line x1="557.50" y1="90.5" x2="557.50" y2="96.9"/>
<line x1="711.50" y1="810.5" x2="711.50" y2="804.1"/>
<line x1="711.50" y1="90.5" x2="711.50" y2="96.9"/>
<line x1="865.50" y1="810.5" x2="865.50" y2="804.1"/>
<line x1="865.50" y1="90.5" x2="865.50" y2="96.9"/>
<line x1="1019.50" y1="810.5" x2="1019.50" y2="804.1"/>
<line x1="1019.50" y1="90.5" x2="1019.50" y2="96.9"/>
<line x1="1172.50" y1="810.5" x2="1172.50" y2="804.1"/>
<line x1="1172.50" y1="90.5" x2="1172.50" y2="96.9"/>
<line x1="1326.50" y1="810.5" x2="1326.50" y2="804.1"/>
<line x1="1326.50" y1="90.5" x2="1326.50" y2="96.9"/>
<line x1="1480.50" y1="810.5" x2="1480.50" y2="804.1"/>
<line x1="1480.50" y1="90.5" x2="1480.50" y2="96.9"/>
<line x1="1633.50" y1="810.5" x2="1633.50" y2="804.1"/>
<line x1="1633.50" y1="90.5" x2="1633.50" y2="96.9"/>
<line x1="1787.50" y1="810.5" x2="1787.50" y2="804.1"/>
<line x1="1787.50" y1="90.5" x2="1787.50" y2="96.9"/>
<line x1="250.5" y1="810.50" x2="256.9" y2="810.50"/>
<line x1="1800.5" y1="810.50" x2="1794.1" y2="810.50"/>
<line x1="250.5" y1="772.50" x2="256.9" y2="772.50"/>
<line x1="1800.5" y1="772.50" x2="1794.1" y2="772.50"/>
<line x1="250.5" y1="734.50" x2="256.9" y2="734.50"/>
<line x1="1800.5" y1="734.50" x2="1794.1" y2="734.50"/>
<line x1="250.5" y1="696.50" x2="256.9" y2="696.50"/>
<line x1="1800.5" y1="696.50" x2="1794.1" y2="696.50"/>
<line x1="250.5" y1="658.50" x2="256.9" y2="658.50"/>
<line x1="1800.5" y1="658.50" x2="1794.1" y2="658.50"/>
<line x1="250.5" y1="621.50" x2="256.9" y2="621.50"/>
<line x1="1800.5" y1="621.50" x2="1794.1" y2="621.50"/>
<line x1="250.5" y1="583.50" x2="256.9" y2="583.50"/>
<line x1="1800.5" y1="583.50" x2="1794.1" y2="583.50"/>
<line x1="250.5" y1="545.50" x2="256.9" y2="545.50"/>
<line x1="1800.5" y1="545.50" x2="1794.1" y2="545.50"/>
<line x1="250.5" y1="507.50" x2="256.9" y2="507.50"/>
<line x1="1800.5" y1="507.50" x2="1794.1" y2="507.50"/>
<line x1="250.5" y1="469.50" x2="256.9" y2="469.50"/>
<line x1="1800.5" y1="469.50" x2="1794.1" y2="469.50"/>
<line x1="250.5" y1="431.50" x2="256.9" y2="431.50"/>
<line x1="1800.5" y1="431.50" x2="1794.1" y2="431.50"/>
<line x1="250.5" y1="393.50" x2="256.9" y2="393.50"/>
<line x1="1800.5" y1="393.50" x2="1794.1" y2="393.50"/>
<line x1="250.5" y1="355.50" x2="256.9" y2="355.50"/>
<line x1="1800.5" y1="355.50" x2="1794.1" y2="355.50"/>
<line x1="250.5" y1="317.50" x2="256.9" y2="317.50"/>
<line x1="1800.5" y1="317.50" x2="1794.1" y2="317.50"/>
<line x1="250.5" y1="279.50" x2="256.9" y2="279.50"/>
<line x1="1800.5" y1="279.50" x2="1794.1" y2="279.50"/>
<line x1="250.5" y1="242.50" x2="256.9" y2="242.50"/>
<line x1="1800.5" y1="242.50" x2="1794.1" y2="242.50"/>
<line x1="250.5" y1="204.50" x2="256.9" y2="204.50"/>
<line x1="1800.5" y1="204.50" x2="1794.1" y2="204.50"/>
<line x1="250.5" y1="166.50" x2="256.9" y2="166.50"/>
<line x1="1800.5" y1="166.50" x2="1794.1" y2="166.50"/>
<line x1="250.5" y1="128.50" x2="256.9" y2="128.50"/>
<line x1="1800.5" y1="128.50" x2="1794.1" y2="128.50"/>
<line x1="250.5" y1="90.50" x2="256.9" y2="90.50"/>
<line x1="1800.5" y1="90.50" x2="1794.1" y2="90.50"/>
</g>
<rect x="250.5" y="90.5" width="1550" height="720" fill="none" stroke="#000" stroke-width="1.39"/>
<g font-size="16.85px">
<text transform="translate(250.30,830.3) scale(1.01,1.06)" text-anchor="middle" font-size="16.67px">07/02 kl 00</text>
<text transform="translate(404.02,830.3) scale(1.01,1.06)" text-anchor="middle" font-size="16.67px">07/02 kl 12</text>
<text transform="translate(557.74,830.3) scale(1.01,1.06)" text-anchor="middle" font-size="16.67px">08/02 kl 00</text>
<text transform="translate(711.46,830.3) scale(1.01,1.06)" text-anchor="middle" font-size="16.67px">08/02 kl 12</text>
<text transform="translate(865.18,830.3) scale(1.01,1.06)" text-anchor="middle" font-size="16.67px">09/02 kl 00</text>
<text transform="translate(1018.90,830.3) scale(1.01,1.06)" text-anchor="middle" font-size="16.67px">09/02 kl 12</text>
<text transform="translate(1172.61,830.3) scale(1.01,1.06)" text-anchor="middle" font-size="16.67px">10/02 kl 00</text>
<text transform="translate(1326.33,830.3) scale(1.01,1.06)" text-anchor="middle" font-size="16.67px">10/02 kl 12</text>
<text transform="translate(1480.05,830.3) scale(1.01,1.06)" text-anchor="middle" font-size="16.67px">11/02 kl 00</text>
<text transform="translate(1633.77,830.3) scale(1.01,1.06)" text-anchor="middle" font-size="16.67px">11/02 kl 12</text>
<text transform="translate(1787.49,830.3) scale(1.01,1.06)" text-anchor="middle" font-size="16.67px">12/02 kl 00</text>
<text transform="translate(244.3,815.20) scale(1,1.06)" text-anchor="end" font-size="16.67px">−10</text>
<text transform="translate(244.3,777.31) scale(1,1.06)" text-anchor="end" font-size="16.67px">−5</text>
<text transform="translate(244.3,739.41) scale(1,1.06)" text-anchor="end" font-size="16.67px">0</text>
<text transform="translate(244.3,701.52) scale(1,1.06)" text-anchor="end" font-size="16.67px">5</text>
<text transform="translate(244.3,663.62) scale(1,1.06)" text-anchor="end" font-size="16.67px">10</text>
<text transform="translate(244.3,625.73) scale(1,1.06)" text-anchor="end" font-size="16.67px">15</text>
<text transform="translate(244.3,587.83) scale(1,1.06)" text-anchor="end" font-size="16.67px">20</text>
<text transform="translate(244.3,549.94) scale(1,1.06)" text-anchor="end" font-size="16.67px">25</text>
<text transform="translate(244.3,512.04) scale(1,1.06)" text-anchor="end" font-size="16.67px">30</text>
<text transform="translate(244.3,474.15) scale(1,1.06)" text-anchor="end" font-size="16.67px">35</text>
<text transform="translate(244.3,436.25) scale(1,1.06)" text-anchor="end" font-size="16.67px">40</text>
<text transform="translate(244.3,398.36) scale(1,1.06)" text-anchor="end" font-size="16.67px">45</text>
<text transform="translate(244.3,360.46) scale(1,1.06)" text-anchor="end" font-size="16.67px">50</text>
<text transform="translate(244.3,322.57) scale(1,1.06)" text-anchor="end" font-size="16.67px">55</text>
<text transform="translate(244.3,284.67) scale(1,1.06)" text-anchor="end" font-size="16.67px">60</text>
<text transform="translate(244.3,246.78) scale(1,1.06)" text-anchor="end" font-size="16.67px">65</text>
<text transform="translate(244.3,208.88) scale(1,1.06)" text-anchor="end" font-size="16.67px">70</text>
<text transform="translate(244.3,170.99) scale(1,1.06)" text-anchor="end" font-size="16.67px">75</text>
<text transform="translate(244.3,133.09) scale(1,1.06)" text-anchor="end" font-size="16.67px">80</text>
<text transform="translate(244.3,95.20) scale(1,1.06)" text-anchor="end" font-size="16.67px">85</text>
<text transform="translate(198.2,451) rotate(-90)" text-anchor="middle">Vannstand [cm]</text>
</g>
<text transform="translate(1025.7,83.3) scale(1.006,1)" font-size="20px" text-anchor="middle">HONNINGSVAAG</text>
<rect x="250.5" y="837.5" width="1550" height="35" fill="#fff" stroke="#000" stroke-width="1.39"/>
<g font-size="20px">
<line x1="262" y1="853.4" x2="292.8" y2="853.4" stroke="#000" stroke-width="4.17"/>
<text transform="translate(311.7,860.2) scale(0.975,1)">Observasjoner</text>
<line x1="600" y1="853.4" x2="630" y2="853.4" stroke="#6666cc" stroke-width="2.78"/>
<text transform="translate(649.5,860.2) scale(0.978,1)">Deterministisk</text>
<line x1="937" y1="853.4" x2="967" y2="853.4" stroke="#cc66cc" stroke-width="2.78"/>
<text transform="translate(986.2,860.2) scale(0.978,1)">Median</text>
<line x1="1203" y1="853.4" x2="1233" y2="853.4" stroke="#808080" stroke-width="2.78"/>
<text transform="translate(1252.7,860.2) scale(0.978,1)">Min og maks EPS</text>
<line x1="1565" y1="853.4" x2="1594.2" y2="853.4" stroke="#d3d3d3" stroke-width="0.7"/>
<text transform="translate(1614.7,860.2) scale(0.97,1)">EPS-medlemmene</text>
</g>
</svg></body></html>
